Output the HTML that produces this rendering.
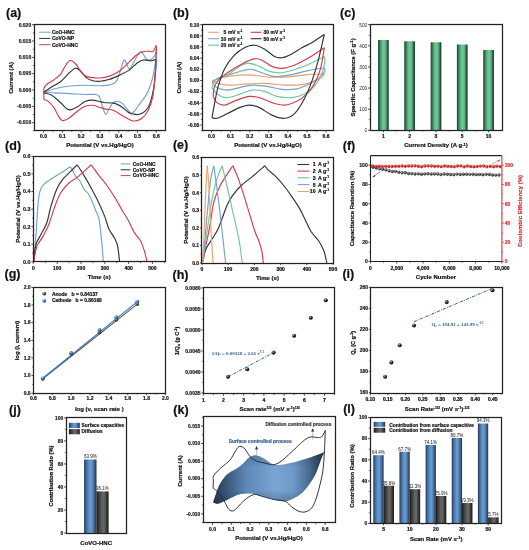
<!DOCTYPE html><html><head><meta charset="utf-8"><style>html,body{margin:0;padding:0;background:#fff;width:529px;height:550px;overflow:hidden}svg{display:block;will-change:transform}</style></head><body>
<svg width="529" height="550" viewBox="0 0 529 550">
<rect width="529" height="550" fill="#fff"/>
<defs>
<linearGradient id="gGreen" x1="0" x2="1" y1="0" y2="0">
<stop offset="0" stop-color="#1c3a2a"/><stop offset="0.12" stop-color="#2f6b4a"/><stop offset="0.35" stop-color="#5fb888"/><stop offset="0.55" stop-color="#70c996"/><stop offset="0.75" stop-color="#5aa97e"/><stop offset="0.9" stop-color="#24503a"/><stop offset="1" stop-color="#1c3a2a"/>
</linearGradient>
<linearGradient id="gBlue" x1="0" x2="1" y1="0" y2="0">
<stop offset="0" stop-color="#223046"/><stop offset="0.15" stop-color="#3c6494"/><stop offset="0.45" stop-color="#6399d0"/><stop offset="0.6" stop-color="#6399d0"/><stop offset="0.85" stop-color="#3f5c82"/><stop offset="1" stop-color="#223046"/>
</linearGradient>
<linearGradient id="gDark" x1="0" x2="1" y1="0" y2="0">
<stop offset="0" stop-color="#161616"/><stop offset="0.15" stop-color="#333"/><stop offset="0.5" stop-color="#666"/><stop offset="0.65" stop-color="#626262"/><stop offset="0.88" stop-color="#2e2e2e"/><stop offset="1" stop-color="#161616"/>
</linearGradient>
<linearGradient id="gK" x1="213" x2="325" y1="0" y2="0" gradientUnits="userSpaceOnUse">
<stop offset="0" stop-color="#26364a"/><stop offset="0.12" stop-color="#3a587a"/><stop offset="0.3" stop-color="#5d88b8"/><stop offset="0.55" stop-color="#79a4d4"/><stop offset="0.72" stop-color="#6d98c8"/><stop offset="0.86" stop-color="#4a6a8e"/><stop offset="0.95" stop-color="#2f4258"/><stop offset="1" stop-color="#26364a"/>
</linearGradient>
<linearGradient id="gKv" x1="0" x2="0" y1="452" y2="503" gradientUnits="userSpaceOnUse">
<stop offset="0" stop-color="#1a2636" stop-opacity="0.25"/><stop offset="0.3" stop-color="#1a2636" stop-opacity="0"/><stop offset="0.75" stop-color="#1a2636" stop-opacity="0"/><stop offset="1" stop-color="#1a2636" stop-opacity="0.3"/>
</linearGradient>
<radialGradient id="gBall" cx="0.35" cy="0.3" r="0.7">
<stop offset="0" stop-color="#bbb"/><stop offset="0.5" stop-color="#333"/><stop offset="1" stop-color="#000"/>
</radialGradient>
<radialGradient id="gBallB" cx="0.35" cy="0.3" r="0.7">
<stop offset="0" stop-color="#a8cdf0"/><stop offset="0.5" stop-color="#3f7fbf"/><stop offset="1" stop-color="#1d4a7a"/>
</radialGradient>
<radialGradient id="gBallG" cx="0.35" cy="0.3" r="0.7">
<stop offset="0" stop-color="#ccc"/><stop offset="0.5" stop-color="#555"/><stop offset="1" stop-color="#222"/>
</radialGradient>
<radialGradient id="gBallR" cx="0.35" cy="0.3" r="0.7">
<stop offset="0" stop-color="#f6a0a0"/><stop offset="0.5" stop-color="#e02020"/><stop offset="1" stop-color="#a01010"/>
</radialGradient>
</defs>
<text x="6.00" y="17.10" font-size="12.5" text-anchor="start" font-weight="bold" fill="#111" font-family="'Liberation Sans', sans-serif" stroke="#111" stroke-width="0.2" >(a)</text>
<rect x="34.50" y="24.50" width="131.00" height="106.00" fill="none" stroke="#222" stroke-width="1.25"/>
<line x1="32.00" y1="24.70" x2="34.00" y2="24.70" stroke="#222" stroke-width="0.8"/>
<text x="31.20" y="26.50" font-size="5" text-anchor="end" font-weight="bold" fill="#222" font-family="'Liberation Sans', sans-serif" stroke="#222" stroke-width="0.2" >0.020</text>
<line x1="32.00" y1="41.03" x2="34.00" y2="41.03" stroke="#222" stroke-width="0.8"/>
<text x="31.20" y="42.83" font-size="5" text-anchor="end" font-weight="bold" fill="#222" font-family="'Liberation Sans', sans-serif" stroke="#222" stroke-width="0.2" >0.015</text>
<line x1="32.00" y1="57.36" x2="34.00" y2="57.36" stroke="#222" stroke-width="0.8"/>
<text x="31.20" y="59.16" font-size="5" text-anchor="end" font-weight="bold" fill="#222" font-family="'Liberation Sans', sans-serif" stroke="#222" stroke-width="0.2" >0.010</text>
<line x1="32.00" y1="73.69" x2="34.00" y2="73.69" stroke="#222" stroke-width="0.8"/>
<text x="31.20" y="75.49" font-size="5" text-anchor="end" font-weight="bold" fill="#222" font-family="'Liberation Sans', sans-serif" stroke="#222" stroke-width="0.2" >0.005</text>
<line x1="32.00" y1="90.02" x2="34.00" y2="90.02" stroke="#222" stroke-width="0.8"/>
<text x="31.20" y="91.82" font-size="5" text-anchor="end" font-weight="bold" fill="#222" font-family="'Liberation Sans', sans-serif" stroke="#222" stroke-width="0.2" >0.000</text>
<line x1="32.00" y1="106.35" x2="34.00" y2="106.35" stroke="#222" stroke-width="0.8"/>
<text x="31.20" y="108.15" font-size="5" text-anchor="end" font-weight="bold" fill="#222" font-family="'Liberation Sans', sans-serif" stroke="#222" stroke-width="0.2" >-0.005</text>
<line x1="32.00" y1="122.68" x2="34.00" y2="122.68" stroke="#222" stroke-width="0.8"/>
<text x="31.20" y="124.48" font-size="5" text-anchor="end" font-weight="bold" fill="#222" font-family="'Liberation Sans', sans-serif" stroke="#222" stroke-width="0.2" >-0.010</text>
<line x1="32.80" y1="32.86" x2="34.00" y2="32.86" stroke="#222" stroke-width="0.7"/>
<line x1="32.80" y1="49.20" x2="34.00" y2="49.20" stroke="#222" stroke-width="0.7"/>
<line x1="32.80" y1="65.53" x2="34.00" y2="65.53" stroke="#222" stroke-width="0.7"/>
<line x1="32.80" y1="81.85" x2="34.00" y2="81.85" stroke="#222" stroke-width="0.7"/>
<line x1="32.80" y1="98.19" x2="34.00" y2="98.19" stroke="#222" stroke-width="0.7"/>
<line x1="32.80" y1="114.51" x2="34.00" y2="114.51" stroke="#222" stroke-width="0.7"/>
<line x1="32.80" y1="130.84" x2="34.00" y2="130.84" stroke="#222" stroke-width="0.7"/>
<line x1="43.60" y1="130.70" x2="43.60" y2="132.70" stroke="#222" stroke-width="0.8"/>
<text x="43.60" y="138.40" font-size="5" text-anchor="middle" font-weight="bold" fill="#111" font-family="'Liberation Sans', sans-serif" stroke="#111" stroke-width="0.2" >0.0</text>
<line x1="62.38" y1="130.70" x2="62.38" y2="132.70" stroke="#222" stroke-width="0.8"/>
<text x="62.38" y="138.40" font-size="5" text-anchor="middle" font-weight="bold" fill="#111" font-family="'Liberation Sans', sans-serif" stroke="#111" stroke-width="0.2" >0.1</text>
<line x1="81.16" y1="130.70" x2="81.16" y2="132.70" stroke="#222" stroke-width="0.8"/>
<text x="81.16" y="138.40" font-size="5" text-anchor="middle" font-weight="bold" fill="#111" font-family="'Liberation Sans', sans-serif" stroke="#111" stroke-width="0.2" >0.2</text>
<line x1="99.94" y1="130.70" x2="99.94" y2="132.70" stroke="#222" stroke-width="0.8"/>
<text x="99.94" y="138.40" font-size="5" text-anchor="middle" font-weight="bold" fill="#111" font-family="'Liberation Sans', sans-serif" stroke="#111" stroke-width="0.2" >0.3</text>
<line x1="118.72" y1="130.70" x2="118.72" y2="132.70" stroke="#222" stroke-width="0.8"/>
<text x="118.72" y="138.40" font-size="5" text-anchor="middle" font-weight="bold" fill="#111" font-family="'Liberation Sans', sans-serif" stroke="#111" stroke-width="0.2" >0.4</text>
<line x1="137.50" y1="130.70" x2="137.50" y2="132.70" stroke="#222" stroke-width="0.8"/>
<text x="137.50" y="138.40" font-size="5" text-anchor="middle" font-weight="bold" fill="#111" font-family="'Liberation Sans', sans-serif" stroke="#111" stroke-width="0.2" >0.5</text>
<line x1="156.28" y1="130.70" x2="156.28" y2="132.70" stroke="#222" stroke-width="0.8"/>
<text x="156.28" y="138.40" font-size="5" text-anchor="middle" font-weight="bold" fill="#111" font-family="'Liberation Sans', sans-serif" stroke="#111" stroke-width="0.2" >0.6</text>
<line x1="52.99" y1="130.70" x2="52.99" y2="131.90" stroke="#222" stroke-width="0.7"/>
<line x1="71.77" y1="130.70" x2="71.77" y2="131.90" stroke="#222" stroke-width="0.7"/>
<line x1="90.55" y1="130.70" x2="90.55" y2="131.90" stroke="#222" stroke-width="0.7"/>
<line x1="109.33" y1="130.70" x2="109.33" y2="131.90" stroke="#222" stroke-width="0.7"/>
<line x1="128.11" y1="130.70" x2="128.11" y2="131.90" stroke="#222" stroke-width="0.7"/>
<line x1="146.89" y1="130.70" x2="146.89" y2="131.90" stroke="#222" stroke-width="0.7"/>
<text x="100.00" y="147.40" font-size="6" text-anchor="middle" font-weight="bold" fill="#111" font-family="'Liberation Sans', sans-serif" stroke="#111" stroke-width="0.2" >Potential (V vs.Hg/HgO)</text>
<text x="12.90" y="77.90" font-size="6" text-anchor="middle" font-weight="bold" fill="#111" font-family="'Liberation Sans', sans-serif" stroke="#111" stroke-width="0.2" transform="rotate(-90 12.90 77.90)" >Current (A)</text>
<line x1="39.1" y1="32.2" x2="50.4" y2="32.2" stroke="#6fa1d4" stroke-width="1"/>
<text x="51.90" y="34.00" font-size="4.95" text-anchor="start" font-weight="bold" fill="#111" font-family="'Liberation Sans', sans-serif" stroke="#111" stroke-width="0.2" >CoO-HNC</text>
<line x1="39.1" y1="38.4" x2="50.4" y2="38.4" stroke="#333333" stroke-width="1"/>
<text x="51.90" y="40.20" font-size="4.95" text-anchor="start" font-weight="bold" fill="#111" font-family="'Liberation Sans', sans-serif" stroke="#111" stroke-width="0.2" >CoVO-NP</text>
<line x1="39.1" y1="44.7" x2="50.4" y2="44.7" stroke="#d23c4a" stroke-width="1"/>
<text x="51.90" y="46.50" font-size="4.95" text-anchor="start" font-weight="bold" fill="#111" font-family="'Liberation Sans', sans-serif" stroke="#111" stroke-width="0.2" >CoVO-HNC</text>
<path d="M43.90,92.20 C45.88,91.58 51.40,89.53 55.80,88.50 C60.20,87.47 65.45,86.53 70.30,86.00 C75.15,85.47 79.95,85.35 84.90,85.30 C89.85,85.25 95.88,85.77 100.00,85.70 C104.12,85.63 106.93,85.57 109.60,84.90 C112.27,84.23 114.27,83.85 116.00,81.70 C117.73,79.55 118.67,75.62 120.00,72.00 C121.33,68.38 122.80,61.07 124.00,60.00 C125.20,58.93 126.27,64.13 127.20,65.60 C128.13,67.07 128.52,69.33 129.60,68.80 C130.68,68.27 132.22,64.93 133.70,62.40 C135.18,59.87 137.17,55.33 138.50,53.60 C139.83,51.87 140.37,51.07 141.70,52.00 C143.03,52.93 145.17,57.87 146.50,59.20 C147.83,60.53 148.37,60.53 149.70,60.00 C151.03,59.47 153.38,57.87 154.50,56.00 C155.62,54.13 156.08,50.00 156.40,48.80" fill="none" stroke="#6fa1d4" stroke-width="1.15" stroke-linejoin="round" />
<path d="M43.90,92.40 C45.88,92.48 51.40,92.70 55.80,92.90 C60.20,93.10 65.43,93.33 70.30,93.60 C75.17,93.87 80.67,94.35 85.00,94.50 C89.33,94.65 93.85,94.03 96.30,94.50 C98.75,94.97 98.67,95.27 99.70,97.30 C100.73,99.33 101.48,103.87 102.50,106.70 C103.52,109.53 104.62,114.13 105.80,114.30 C106.98,114.47 108.33,109.67 109.60,107.70 C110.87,105.73 111.98,103.53 113.40,102.50 C114.82,101.47 116.53,101.27 118.10,101.50 C119.67,101.73 121.23,102.55 122.80,103.90 C124.37,105.25 126.08,108.02 127.50,109.60 C128.92,111.18 130.05,113.25 131.30,113.40 C132.55,113.55 133.80,111.82 135.00,110.50 C136.20,109.18 137.12,107.37 138.50,105.50 C139.88,103.63 141.70,101.67 143.30,99.30 C144.90,96.93 146.50,95.03 148.10,91.30 C149.70,87.57 151.57,82.78 152.90,76.90 C154.23,71.02 155.52,60.68 156.10,56.00 C156.68,51.32 156.35,50.00 156.40,48.80" fill="none" stroke="#6fa1d4" stroke-width="1.15" stroke-linejoin="round" />
<path d="M43.90,92.20 C45.15,91.35 48.68,88.80 51.40,87.10 C54.12,85.40 57.28,84.30 60.20,82.00 C63.12,79.70 66.37,75.60 68.90,73.30 C71.43,71.00 73.47,68.57 75.40,68.20 C77.33,67.83 78.68,69.53 80.50,71.10 C82.32,72.67 84.37,76.03 86.30,77.60 C88.23,79.17 89.82,79.88 92.10,80.50 C94.38,81.12 97.08,81.50 100.00,81.30 C102.92,81.10 106.40,80.30 109.60,79.30 C112.80,78.30 116.00,76.78 119.20,75.30 C122.40,73.82 125.85,72.42 128.80,70.40 C131.75,68.38 134.48,64.93 136.90,63.20 C139.32,61.47 140.90,60.40 143.30,60.00 C145.70,59.60 149.17,60.93 151.30,60.80 C153.43,60.67 155.30,59.47 156.10,59.20" fill="none" stroke="#333333" stroke-width="1.15" stroke-linejoin="round" />
<path d="M43.90,92.90 C45.15,93.27 48.68,93.53 51.40,95.10 C54.12,96.67 57.77,100.13 60.20,102.30 C62.63,104.47 64.32,106.83 66.00,108.10 C67.68,109.37 68.37,110.13 70.30,109.90 C72.23,109.67 75.15,108.10 77.60,106.70 C80.05,105.30 82.50,102.60 85.00,101.50 C87.50,100.40 90.23,100.10 92.60,100.10 C94.97,100.10 97.32,101.10 99.20,101.50 C101.08,101.90 101.85,102.25 103.90,102.50 C105.95,102.75 109.45,102.77 111.50,103.00 C113.55,103.23 114.32,103.12 116.20,103.90 C118.08,104.68 120.75,106.28 122.80,107.70 C124.85,109.12 126.80,111.35 128.50,112.40 C130.20,113.45 131.33,113.65 133.00,114.00 C134.67,114.35 136.52,114.95 138.50,114.50 C140.48,114.05 143.03,113.03 144.90,111.30 C146.77,109.57 148.23,107.97 149.70,104.10 C151.17,100.23 152.68,93.98 153.70,88.10 C154.72,82.22 155.40,73.62 155.80,68.80 C156.20,63.98 156.05,60.80 156.10,59.20" fill="none" stroke="#333333" stroke-width="1.15" stroke-linejoin="round" />
<path d="M43.90,99.40 C43.90,97.58 43.37,91.03 43.90,88.50 C44.43,85.97 45.60,85.53 47.10,84.20 C48.60,82.87 50.72,82.08 52.90,80.50 C55.08,78.92 58.15,77.12 60.20,74.70 C62.25,72.28 63.52,68.37 65.20,66.00 C66.88,63.63 68.47,60.75 70.30,60.50 C72.13,60.25 74.25,62.37 76.20,64.50 C78.15,66.63 80.07,71.23 82.00,73.30 C83.93,75.37 84.80,76.12 87.80,76.90 C90.80,77.68 96.37,78.13 100.00,78.00 C103.63,77.87 106.40,77.22 109.60,76.10 C112.80,74.98 116.27,73.32 119.20,71.30 C122.13,69.28 124.52,66.55 127.20,64.00 C129.88,61.45 132.88,58.00 135.30,56.00 C137.72,54.00 139.57,52.80 141.70,52.00 C143.83,51.20 146.23,51.28 148.10,51.20 C149.97,51.12 151.57,52.43 152.90,51.50 C154.23,50.57 155.57,46.58 156.10,45.60" fill="none" stroke="#d23c4a" stroke-width="1.15" stroke-linejoin="round" />
<path d="M43.90,99.40 C44.67,99.77 46.77,100.15 48.50,101.60 C50.23,103.05 52.72,105.80 54.30,108.10 C55.88,110.40 56.67,113.33 58.00,115.40 C59.33,117.47 60.48,120.02 62.30,120.50 C64.12,120.98 66.35,119.88 68.90,118.30 C71.45,116.72 74.92,113.00 77.60,111.00 C80.28,109.00 82.50,107.25 85.00,106.30 C87.50,105.35 90.23,105.15 92.60,105.30 C94.97,105.45 97.00,106.57 99.20,107.20 C101.40,107.83 103.60,108.63 105.80,109.10 C108.00,109.57 110.35,109.37 112.40,110.00 C114.45,110.63 116.05,111.72 118.10,112.90 C120.15,114.08 122.65,115.92 124.70,117.10 C126.75,118.28 128.77,119.35 130.40,120.00 C132.03,120.65 132.62,121.25 134.50,121.00 C136.38,120.75 139.43,120.25 141.70,118.50 C143.97,116.75 146.23,114.23 148.10,110.50 C149.97,106.77 151.70,102.52 152.90,96.10 C154.10,89.68 154.72,79.75 155.30,72.00 C155.88,64.25 156.27,54.00 156.40,49.60 C156.53,45.20 156.15,46.27 156.10,45.60" fill="none" stroke="#d23c4a" stroke-width="1.15" stroke-linejoin="round" />
<text x="172.90" y="17.10" font-size="12.5" text-anchor="start" font-weight="bold" fill="#111" font-family="'Liberation Sans', sans-serif" stroke="#111" stroke-width="0.2" >(b)</text>
<rect x="202.50" y="24.50" width="131.00" height="106.00" fill="none" stroke="#222" stroke-width="1.25"/>
<line x1="200.20" y1="24.70" x2="202.20" y2="24.70" stroke="#222" stroke-width="0.8"/>
<text x="199.40" y="26.50" font-size="5" text-anchor="end" font-weight="bold" fill="#222" font-family="'Liberation Sans', sans-serif" stroke="#222" stroke-width="0.2" >0.10</text>
<line x1="200.20" y1="35.86" x2="202.20" y2="35.86" stroke="#222" stroke-width="0.8"/>
<text x="199.40" y="37.66" font-size="5" text-anchor="end" font-weight="bold" fill="#222" font-family="'Liberation Sans', sans-serif" stroke="#222" stroke-width="0.2" >0.08</text>
<line x1="200.20" y1="47.02" x2="202.20" y2="47.02" stroke="#222" stroke-width="0.8"/>
<text x="199.40" y="48.82" font-size="5" text-anchor="end" font-weight="bold" fill="#222" font-family="'Liberation Sans', sans-serif" stroke="#222" stroke-width="0.2" >0.06</text>
<line x1="200.20" y1="58.18" x2="202.20" y2="58.18" stroke="#222" stroke-width="0.8"/>
<text x="199.40" y="59.98" font-size="5" text-anchor="end" font-weight="bold" fill="#222" font-family="'Liberation Sans', sans-serif" stroke="#222" stroke-width="0.2" >0.04</text>
<line x1="200.20" y1="69.34" x2="202.20" y2="69.34" stroke="#222" stroke-width="0.8"/>
<text x="199.40" y="71.14" font-size="5" text-anchor="end" font-weight="bold" fill="#222" font-family="'Liberation Sans', sans-serif" stroke="#222" stroke-width="0.2" >0.02</text>
<line x1="200.20" y1="80.50" x2="202.20" y2="80.50" stroke="#222" stroke-width="0.8"/>
<text x="199.40" y="82.30" font-size="5" text-anchor="end" font-weight="bold" fill="#222" font-family="'Liberation Sans', sans-serif" stroke="#222" stroke-width="0.2" >0.00</text>
<line x1="200.20" y1="91.66" x2="202.20" y2="91.66" stroke="#222" stroke-width="0.8"/>
<text x="199.40" y="93.46" font-size="5" text-anchor="end" font-weight="bold" fill="#222" font-family="'Liberation Sans', sans-serif" stroke="#222" stroke-width="0.2" >-0.02</text>
<line x1="200.20" y1="102.82" x2="202.20" y2="102.82" stroke="#222" stroke-width="0.8"/>
<text x="199.40" y="104.62" font-size="5" text-anchor="end" font-weight="bold" fill="#222" font-family="'Liberation Sans', sans-serif" stroke="#222" stroke-width="0.2" >-0.04</text>
<line x1="200.20" y1="113.98" x2="202.20" y2="113.98" stroke="#222" stroke-width="0.8"/>
<text x="199.40" y="115.78" font-size="5" text-anchor="end" font-weight="bold" fill="#222" font-family="'Liberation Sans', sans-serif" stroke="#222" stroke-width="0.2" >-0.06</text>
<line x1="200.20" y1="125.14" x2="202.20" y2="125.14" stroke="#222" stroke-width="0.8"/>
<text x="199.40" y="126.94" font-size="5" text-anchor="end" font-weight="bold" fill="#222" font-family="'Liberation Sans', sans-serif" stroke="#222" stroke-width="0.2" >-0.08</text>
<line x1="201.00" y1="30.28" x2="202.20" y2="30.28" stroke="#222" stroke-width="0.7"/>
<line x1="201.00" y1="41.44" x2="202.20" y2="41.44" stroke="#222" stroke-width="0.7"/>
<line x1="201.00" y1="52.60" x2="202.20" y2="52.60" stroke="#222" stroke-width="0.7"/>
<line x1="201.00" y1="63.76" x2="202.20" y2="63.76" stroke="#222" stroke-width="0.7"/>
<line x1="201.00" y1="74.92" x2="202.20" y2="74.92" stroke="#222" stroke-width="0.7"/>
<line x1="201.00" y1="86.08" x2="202.20" y2="86.08" stroke="#222" stroke-width="0.7"/>
<line x1="201.00" y1="97.24" x2="202.20" y2="97.24" stroke="#222" stroke-width="0.7"/>
<line x1="201.00" y1="108.40" x2="202.20" y2="108.40" stroke="#222" stroke-width="0.7"/>
<line x1="201.00" y1="119.56" x2="202.20" y2="119.56" stroke="#222" stroke-width="0.7"/>
<line x1="201.00" y1="130.72" x2="202.20" y2="130.72" stroke="#222" stroke-width="0.7"/>
<line x1="211.50" y1="130.50" x2="211.50" y2="132.50" stroke="#222" stroke-width="0.8"/>
<text x="211.50" y="138.40" font-size="5" text-anchor="middle" font-weight="bold" fill="#111" font-family="'Liberation Sans', sans-serif" stroke="#111" stroke-width="0.2" >0.0</text>
<line x1="230.60" y1="130.50" x2="230.60" y2="132.50" stroke="#222" stroke-width="0.8"/>
<text x="230.60" y="138.40" font-size="5" text-anchor="middle" font-weight="bold" fill="#111" font-family="'Liberation Sans', sans-serif" stroke="#111" stroke-width="0.2" >0.1</text>
<line x1="249.70" y1="130.50" x2="249.70" y2="132.50" stroke="#222" stroke-width="0.8"/>
<text x="249.70" y="138.40" font-size="5" text-anchor="middle" font-weight="bold" fill="#111" font-family="'Liberation Sans', sans-serif" stroke="#111" stroke-width="0.2" >0.2</text>
<line x1="268.80" y1="130.50" x2="268.80" y2="132.50" stroke="#222" stroke-width="0.8"/>
<text x="268.80" y="138.40" font-size="5" text-anchor="middle" font-weight="bold" fill="#111" font-family="'Liberation Sans', sans-serif" stroke="#111" stroke-width="0.2" >0.3</text>
<line x1="287.90" y1="130.50" x2="287.90" y2="132.50" stroke="#222" stroke-width="0.8"/>
<text x="287.90" y="138.40" font-size="5" text-anchor="middle" font-weight="bold" fill="#111" font-family="'Liberation Sans', sans-serif" stroke="#111" stroke-width="0.2" >0.4</text>
<line x1="307.00" y1="130.50" x2="307.00" y2="132.50" stroke="#222" stroke-width="0.8"/>
<text x="307.00" y="138.40" font-size="5" text-anchor="middle" font-weight="bold" fill="#111" font-family="'Liberation Sans', sans-serif" stroke="#111" stroke-width="0.2" >0.5</text>
<line x1="326.10" y1="130.50" x2="326.10" y2="132.50" stroke="#222" stroke-width="0.8"/>
<text x="326.10" y="138.40" font-size="5" text-anchor="middle" font-weight="bold" fill="#111" font-family="'Liberation Sans', sans-serif" stroke="#111" stroke-width="0.2" >0.6</text>
<line x1="221.05" y1="130.50" x2="221.05" y2="131.70" stroke="#222" stroke-width="0.7"/>
<line x1="240.15" y1="130.50" x2="240.15" y2="131.70" stroke="#222" stroke-width="0.7"/>
<line x1="259.25" y1="130.50" x2="259.25" y2="131.70" stroke="#222" stroke-width="0.7"/>
<line x1="278.35" y1="130.50" x2="278.35" y2="131.70" stroke="#222" stroke-width="0.7"/>
<line x1="297.45" y1="130.50" x2="297.45" y2="131.70" stroke="#222" stroke-width="0.7"/>
<line x1="316.55" y1="130.50" x2="316.55" y2="131.70" stroke="#222" stroke-width="0.7"/>
<text x="268.00" y="147.40" font-size="6" text-anchor="middle" font-weight="bold" fill="#111" font-family="'Liberation Sans', sans-serif" stroke="#111" stroke-width="0.2" >Potential (V vs.Hg/HgO)</text>
<text x="181.00" y="77.60" font-size="6" text-anchor="middle" font-weight="bold" fill="#111" font-family="'Liberation Sans', sans-serif" stroke="#111" stroke-width="0.2" transform="rotate(-90 181.00 77.60)" >Current (A)</text>
<line x1="208.2" y1="32.3" x2="219.0" y2="32.3" stroke="#f0a060" stroke-width="1.1"/>
<text x="226.30" y="34.10" font-size="4.95" text-anchor="end" font-weight="bold" fill="#111" font-family="'Liberation Sans', sans-serif" stroke="#111" stroke-width="0.2" >5</text>
<text x="227.90" y="34.10" font-size="4.95" text-anchor="start" font-weight="bold" fill="#111" font-family="'Liberation Sans', sans-serif" stroke="#111" stroke-width="0.2" >mV s<tspan dy="-1.8" font-size="3.2">-1</tspan></text>
<line x1="208.2" y1="38.7" x2="219.0" y2="38.7" stroke="#6fa1d4" stroke-width="1.1"/>
<text x="226.30" y="40.50" font-size="4.95" text-anchor="end" font-weight="bold" fill="#111" font-family="'Liberation Sans', sans-serif" stroke="#111" stroke-width="0.2" >10</text>
<text x="227.90" y="40.50" font-size="4.95" text-anchor="start" font-weight="bold" fill="#111" font-family="'Liberation Sans', sans-serif" stroke="#111" stroke-width="0.2" >mV s<tspan dy="-1.8" font-size="3.2">-1</tspan></text>
<line x1="208.2" y1="45.2" x2="219.0" y2="45.2" stroke="#6cc99a" stroke-width="1.1"/>
<text x="226.30" y="47.00" font-size="4.95" text-anchor="end" font-weight="bold" fill="#111" font-family="'Liberation Sans', sans-serif" stroke="#111" stroke-width="0.2" >20</text>
<text x="227.90" y="47.00" font-size="4.95" text-anchor="start" font-weight="bold" fill="#111" font-family="'Liberation Sans', sans-serif" stroke="#111" stroke-width="0.2" >mV s<tspan dy="-1.8" font-size="3.2">-1</tspan></text>
<line x1="250.7" y1="32.3" x2="261.5" y2="32.3" stroke="#d23c4a" stroke-width="1.1"/>
<text x="268.90" y="34.10" font-size="4.95" text-anchor="end" font-weight="bold" fill="#111" font-family="'Liberation Sans', sans-serif" stroke="#111" stroke-width="0.2" >30</text>
<text x="270.50" y="34.10" font-size="4.95" text-anchor="start" font-weight="bold" fill="#111" font-family="'Liberation Sans', sans-serif" stroke="#111" stroke-width="0.2" >mV s<tspan dy="-1.8" font-size="3.2">-1</tspan></text>
<line x1="250.7" y1="38.7" x2="261.5" y2="38.7" stroke="#333333" stroke-width="1.1"/>
<text x="268.90" y="40.50" font-size="4.95" text-anchor="end" font-weight="bold" fill="#111" font-family="'Liberation Sans', sans-serif" stroke="#111" stroke-width="0.2" >50</text>
<text x="270.50" y="40.50" font-size="4.95" text-anchor="start" font-weight="bold" fill="#111" font-family="'Liberation Sans', sans-serif" stroke="#111" stroke-width="0.2" >mV s<tspan dy="-1.8" font-size="3.2">-1</tspan></text>
<path d="M212.00,80.90 C213.67,80.35 217.43,78.57 222.00,77.60 C226.57,76.63 234.42,75.52 239.40,75.10 C244.38,74.68 246.90,74.77 251.90,75.10 C256.90,75.43 263.17,76.80 269.40,77.10 C275.63,77.40 283.07,77.32 289.30,76.90 C295.53,76.48 300.97,75.10 306.80,74.60 C312.63,74.10 321.38,74.02 324.30,73.90" fill="none" stroke="#f0a060" stroke-width="1.15" stroke-linejoin="round" />
<path d="M212.00,80.90 C213.25,81.40 216.17,83.20 219.50,83.90 C222.83,84.60 227.43,85.10 232.00,85.10 C236.57,85.10 241.50,84.18 246.90,83.90 C252.30,83.62 258.17,83.20 264.40,83.40 C270.63,83.60 278.07,84.90 284.30,85.10 C290.53,85.30 296.80,85.22 301.80,84.60 C306.80,83.98 310.97,82.57 314.30,81.40 C317.63,80.23 320.13,78.85 321.80,77.60 C323.47,76.35 323.88,74.52 324.30,73.90" fill="none" stroke="#f0a060" stroke-width="1.15" stroke-linejoin="round" />
<path d="M212.00,82.60 C213.25,81.77 216.17,79.05 219.50,77.60 C222.83,76.15 227.85,75.13 232.00,73.90 C236.15,72.67 241.08,70.95 244.40,70.20 C247.72,69.45 248.98,68.98 251.90,69.40 C254.82,69.82 258.15,71.53 261.90,72.70 C265.65,73.87 269.83,76.00 274.40,76.40 C278.97,76.80 283.90,76.02 289.30,75.10 C294.70,74.18 300.97,72.13 306.80,70.90 C312.63,69.67 321.38,68.23 324.30,67.70" fill="none" stroke="#6fa1d4" stroke-width="1.15" stroke-linejoin="round" />
<path d="M212.00,82.60 C212.83,83.43 214.50,86.35 217.00,87.60 C219.50,88.85 223.27,90.10 227.00,90.10 C230.73,90.10 235.25,88.43 239.40,87.60 C243.55,86.77 247.32,85.30 251.90,85.10 C256.48,84.90 261.92,85.68 266.90,86.40 C271.88,87.12 276.82,88.98 281.80,89.40 C286.78,89.82 292.22,89.82 296.80,88.90 C301.38,87.98 305.55,85.78 309.30,83.90 C313.05,82.02 316.72,79.68 319.30,77.60 C321.88,75.52 323.97,73.05 324.80,71.40 C325.63,69.75 324.38,68.32 324.30,67.70" fill="none" stroke="#6fa1d4" stroke-width="1.15" stroke-linejoin="round" />
<path d="M212.00,87.60 C212.62,86.35 213.20,82.18 215.70,80.10 C218.20,78.02 223.05,77.38 227.00,75.10 C230.95,72.82 236.08,68.35 239.40,66.40 C242.72,64.45 243.98,63.60 246.90,63.40 C249.82,63.20 253.15,63.87 256.90,65.20 C260.65,66.53 265.25,70.15 269.40,71.40 C273.55,72.65 277.23,73.12 281.80,72.70 C286.37,72.28 292.22,70.37 296.80,68.90 C301.38,67.43 304.72,65.98 309.30,63.90 C313.88,61.82 321.80,57.65 324.30,56.40" fill="none" stroke="#6cc99a" stroke-width="1.15" stroke-linejoin="round" />
<path d="M212.00,87.60 C212.83,88.65 214.50,92.23 217.00,93.90 C219.50,95.57 223.27,97.52 227.00,97.60 C230.73,97.68 235.25,95.65 239.40,94.40 C243.55,93.15 247.73,90.60 251.90,90.10 C256.07,89.60 260.23,90.35 264.40,91.40 C268.57,92.45 272.33,95.37 276.90,96.40 C281.47,97.43 287.23,98.02 291.80,97.60 C296.37,97.18 300.55,95.77 304.30,93.90 C308.05,92.03 311.38,89.73 314.30,86.40 C317.22,83.07 320.05,78.07 321.80,73.90 C323.55,69.73 324.38,64.32 324.80,61.40 C325.22,58.48 324.38,57.23 324.30,56.40" fill="none" stroke="#6cc99a" stroke-width="1.15" stroke-linejoin="round" />
<path d="M213.20,96.40 C213.42,94.73 213.45,89.32 214.50,86.40 C215.55,83.48 217.02,81.40 219.50,78.90 C221.98,76.40 225.67,73.90 229.40,71.40 C233.13,68.90 237.73,65.98 241.90,63.90 C246.07,61.82 251.07,59.52 254.40,58.90 C257.73,58.28 258.98,58.95 261.90,60.20 C264.82,61.45 268.58,65.03 271.90,66.40 C275.22,67.77 278.07,68.60 281.80,68.40 C285.53,68.20 290.13,66.78 294.30,65.20 C298.47,63.62 303.05,60.98 306.80,58.90 C310.55,56.82 313.88,54.57 316.80,52.70 C319.72,50.83 323.05,48.53 324.30,47.70" fill="none" stroke="#d23c4a" stroke-width="1.15" stroke-linejoin="round" />
<path d="M213.20,96.40 C213.83,97.43 215.12,101.15 217.00,102.60 C218.88,104.05 221.18,105.52 224.50,105.10 C227.82,104.68 232.75,101.55 236.90,100.10 C241.05,98.65 245.65,96.82 249.40,96.40 C253.15,95.98 255.65,96.57 259.40,97.60 C263.15,98.63 267.75,101.35 271.90,102.60 C276.05,103.85 280.15,105.32 284.30,105.10 C288.45,104.88 293.05,103.17 296.80,101.30 C300.55,99.43 303.88,96.80 306.80,93.90 C309.72,91.00 312.02,88.07 314.30,83.90 C316.58,79.73 318.83,74.93 320.50,68.90 C322.17,62.87 323.67,51.23 324.30,47.70" fill="none" stroke="#d23c4a" stroke-width="1.15" stroke-linejoin="round" />
<path d="M212.00,117.60 C212.42,115.30 213.47,109.00 214.50,103.80 C215.53,98.60 216.53,92.22 218.20,86.40 C219.87,80.58 221.80,74.10 224.50,68.90 C227.20,63.70 231.08,58.73 234.40,55.20 C237.72,51.67 241.07,49.37 244.40,47.70 C247.73,46.03 251.07,44.98 254.40,45.20 C257.73,45.42 261.07,47.13 264.40,49.00 C267.73,50.87 271.50,54.95 274.40,56.40 C277.30,57.85 278.90,58.12 281.80,57.70 C284.70,57.28 288.47,55.57 291.80,53.90 C295.13,52.23 298.47,49.57 301.80,47.70 C305.13,45.83 308.88,44.37 311.80,42.70 C314.72,41.03 317.22,39.07 319.30,37.70 C321.38,36.33 323.47,35.03 324.30,34.50" fill="none" stroke="#333333" stroke-width="1.15" stroke-linejoin="round" />
<path d="M212.00,117.60 C212.83,117.72 214.50,118.93 217.00,118.30 C219.50,117.67 223.27,115.58 227.00,113.80 C230.73,112.02 235.67,109.05 239.40,107.60 C243.13,106.15 246.07,105.10 249.40,105.10 C252.73,105.10 255.65,105.93 259.40,107.60 C263.15,109.27 267.75,113.32 271.90,115.10 C276.05,116.88 280.57,118.52 284.30,118.30 C288.03,118.08 290.97,117.03 294.30,113.80 C297.63,110.57 301.38,104.30 304.30,98.90 C307.22,93.50 309.52,87.65 311.80,81.40 C314.08,75.15 315.92,69.22 318.00,61.40 C320.08,53.58 323.25,38.98 324.30,34.50" fill="none" stroke="#333333" stroke-width="1.15" stroke-linejoin="round" />
<text x="340.10" y="17.10" font-size="12.5" text-anchor="start" font-weight="bold" fill="#111" font-family="'Liberation Sans', sans-serif" stroke="#111" stroke-width="0.2" >(c)</text>
<line x1="368.00" y1="24.70" x2="370.00" y2="24.70" stroke="#222" stroke-width="0.8"/>
<text x="367.20" y="26.50" font-size="4.7" text-anchor="end" font-weight="normal" fill="#222" font-family="'Liberation Sans', sans-serif" >500</text>
<line x1="368.00" y1="45.82" x2="370.00" y2="45.82" stroke="#222" stroke-width="0.8"/>
<text x="367.20" y="47.62" font-size="4.7" text-anchor="end" font-weight="normal" fill="#222" font-family="'Liberation Sans', sans-serif" >400</text>
<line x1="368.00" y1="66.94" x2="370.00" y2="66.94" stroke="#222" stroke-width="0.8"/>
<text x="367.20" y="68.74" font-size="4.7" text-anchor="end" font-weight="normal" fill="#222" font-family="'Liberation Sans', sans-serif" >300</text>
<line x1="368.00" y1="88.06" x2="370.00" y2="88.06" stroke="#222" stroke-width="0.8"/>
<text x="367.20" y="89.86" font-size="4.7" text-anchor="end" font-weight="normal" fill="#222" font-family="'Liberation Sans', sans-serif" >200</text>
<line x1="368.00" y1="109.18" x2="370.00" y2="109.18" stroke="#222" stroke-width="0.8"/>
<text x="367.20" y="110.98" font-size="4.7" text-anchor="end" font-weight="normal" fill="#222" font-family="'Liberation Sans', sans-serif" >100</text>
<line x1="368.00" y1="130.30" x2="370.00" y2="130.30" stroke="#222" stroke-width="0.8"/>
<text x="367.20" y="132.10" font-size="4.7" text-anchor="end" font-weight="normal" fill="#222" font-family="'Liberation Sans', sans-serif" >0</text>
<line x1="368.80" y1="35.26" x2="370.00" y2="35.26" stroke="#222" stroke-width="0.7"/>
<line x1="368.80" y1="56.38" x2="370.00" y2="56.38" stroke="#222" stroke-width="0.7"/>
<line x1="368.80" y1="77.50" x2="370.00" y2="77.50" stroke="#222" stroke-width="0.7"/>
<line x1="368.80" y1="98.62" x2="370.00" y2="98.62" stroke="#222" stroke-width="0.7"/>
<line x1="368.80" y1="119.74" x2="370.00" y2="119.74" stroke="#222" stroke-width="0.7"/>
<line x1="383.40" y1="130.30" x2="383.40" y2="132.30" stroke="#222" stroke-width="0.8"/>
<text x="383.40" y="138.20" font-size="5" text-anchor="middle" font-weight="bold" fill="#111" font-family="'Liberation Sans', sans-serif" stroke="#111" stroke-width="0.2" >1</text>
<line x1="409.60" y1="130.30" x2="409.60" y2="132.30" stroke="#222" stroke-width="0.8"/>
<text x="409.60" y="138.20" font-size="5" text-anchor="middle" font-weight="bold" fill="#111" font-family="'Liberation Sans', sans-serif" stroke="#111" stroke-width="0.2" >2</text>
<line x1="436.00" y1="130.30" x2="436.00" y2="132.30" stroke="#222" stroke-width="0.8"/>
<text x="436.00" y="138.20" font-size="5" text-anchor="middle" font-weight="bold" fill="#111" font-family="'Liberation Sans', sans-serif" stroke="#111" stroke-width="0.2" >3</text>
<line x1="462.25" y1="130.30" x2="462.25" y2="132.30" stroke="#222" stroke-width="0.8"/>
<text x="462.25" y="138.20" font-size="5" text-anchor="middle" font-weight="bold" fill="#111" font-family="'Liberation Sans', sans-serif" stroke="#111" stroke-width="0.2" >5</text>
<line x1="488.60" y1="130.30" x2="488.60" y2="132.30" stroke="#222" stroke-width="0.8"/>
<text x="488.60" y="138.20" font-size="5" text-anchor="middle" font-weight="bold" fill="#111" font-family="'Liberation Sans', sans-serif" stroke="#111" stroke-width="0.2" >10</text>
<line x1="396.50" y1="130.30" x2="396.50" y2="131.50" stroke="#222" stroke-width="0.7"/>
<line x1="422.80" y1="130.30" x2="422.80" y2="131.50" stroke="#222" stroke-width="0.7"/>
<line x1="449.12" y1="130.30" x2="449.12" y2="131.50" stroke="#222" stroke-width="0.7"/>
<line x1="475.43" y1="130.30" x2="475.43" y2="131.50" stroke="#222" stroke-width="0.7"/>
<rect x="378.05" y="40" width="10.7" height="90.30" fill="url(#gGreen)"/>
<rect x="404.25" y="41.25" width="10.7" height="89.05" fill="url(#gGreen)"/>
<rect x="430.65" y="42.25" width="10.7" height="88.05" fill="url(#gGreen)"/>
<rect x="456.90" y="44.5" width="10.7" height="85.80" fill="url(#gGreen)"/>
<rect x="483.25" y="50" width="10.7" height="80.30" fill="url(#gGreen)"/>
<rect x="370.50" y="24.50" width="132.00" height="106.00" fill="none" stroke="#222" stroke-width="1.25"/>
<text x="436.00" y="147.40" font-size="6" text-anchor="middle" font-weight="bold" fill="#111" font-family="'Liberation Sans', sans-serif" stroke="#111" stroke-width="0.2" >Current Density (A g<tspan dy="-1.8" font-size="4">-1</tspan><tspan dy="1.8">)</tspan></text>
<text x="354.80" y="77.40" font-size="6" text-anchor="middle" font-weight="bold" fill="#111" font-family="'Liberation Sans', sans-serif" stroke="#111" stroke-width="0.2" transform="rotate(-90 354.80 77.40)" >Specific Capacitance (F g<tspan dy="-1.8" font-size="4">-1</tspan><tspan dy="1.8">)</tspan></text>
<text x="5.10" y="150.20" font-size="12.5" text-anchor="start" font-weight="bold" fill="#111" font-family="'Liberation Sans', sans-serif" stroke="#111" stroke-width="0.2" >(d)</text>
<line x1="31.40" y1="156.30" x2="33.40" y2="156.30" stroke="#222" stroke-width="0.8"/>
<text x="30.60" y="158.10" font-size="5.4" text-anchor="end" font-weight="bold" fill="#222" font-family="'Liberation Sans', sans-serif" stroke="#222" stroke-width="0.2" >0.6</text>
<line x1="31.40" y1="173.90" x2="33.40" y2="173.90" stroke="#222" stroke-width="0.8"/>
<text x="30.60" y="175.70" font-size="5.4" text-anchor="end" font-weight="bold" fill="#222" font-family="'Liberation Sans', sans-serif" stroke="#222" stroke-width="0.2" >0.5</text>
<line x1="31.40" y1="191.50" x2="33.40" y2="191.50" stroke="#222" stroke-width="0.8"/>
<text x="30.60" y="193.30" font-size="5.4" text-anchor="end" font-weight="bold" fill="#222" font-family="'Liberation Sans', sans-serif" stroke="#222" stroke-width="0.2" >0.4</text>
<line x1="31.40" y1="209.10" x2="33.40" y2="209.10" stroke="#222" stroke-width="0.8"/>
<text x="30.60" y="210.90" font-size="5.4" text-anchor="end" font-weight="bold" fill="#222" font-family="'Liberation Sans', sans-serif" stroke="#222" stroke-width="0.2" >0.3</text>
<line x1="31.40" y1="226.70" x2="33.40" y2="226.70" stroke="#222" stroke-width="0.8"/>
<text x="30.60" y="228.50" font-size="5.4" text-anchor="end" font-weight="bold" fill="#222" font-family="'Liberation Sans', sans-serif" stroke="#222" stroke-width="0.2" >0.2</text>
<line x1="31.40" y1="244.30" x2="33.40" y2="244.30" stroke="#222" stroke-width="0.8"/>
<text x="30.60" y="246.10" font-size="5.4" text-anchor="end" font-weight="bold" fill="#222" font-family="'Liberation Sans', sans-serif" stroke="#222" stroke-width="0.2" >0.1</text>
<line x1="31.40" y1="261.90" x2="33.40" y2="261.90" stroke="#222" stroke-width="0.8"/>
<text x="30.60" y="263.70" font-size="5.4" text-anchor="end" font-weight="bold" fill="#222" font-family="'Liberation Sans', sans-serif" stroke="#222" stroke-width="0.2" >0.0</text>
<line x1="32.20" y1="165.10" x2="33.40" y2="165.10" stroke="#222" stroke-width="0.7"/>
<line x1="32.20" y1="182.70" x2="33.40" y2="182.70" stroke="#222" stroke-width="0.7"/>
<line x1="32.20" y1="200.30" x2="33.40" y2="200.30" stroke="#222" stroke-width="0.7"/>
<line x1="32.20" y1="217.90" x2="33.40" y2="217.90" stroke="#222" stroke-width="0.7"/>
<line x1="32.20" y1="235.50" x2="33.40" y2="235.50" stroke="#222" stroke-width="0.7"/>
<line x1="32.20" y1="253.10" x2="33.40" y2="253.10" stroke="#222" stroke-width="0.7"/>
<line x1="33.40" y1="261.90" x2="33.40" y2="263.90" stroke="#222" stroke-width="0.8"/>
<text x="33.40" y="270.20" font-size="5" text-anchor="middle" font-weight="bold" fill="#111" font-family="'Liberation Sans', sans-serif" stroke="#111" stroke-width="0.2" >0</text>
<line x1="57.20" y1="261.90" x2="57.20" y2="263.90" stroke="#222" stroke-width="0.8"/>
<text x="57.20" y="270.20" font-size="5" text-anchor="middle" font-weight="bold" fill="#111" font-family="'Liberation Sans', sans-serif" stroke="#111" stroke-width="0.2" >100</text>
<line x1="81.00" y1="261.90" x2="81.00" y2="263.90" stroke="#222" stroke-width="0.8"/>
<text x="81.00" y="270.20" font-size="5" text-anchor="middle" font-weight="bold" fill="#111" font-family="'Liberation Sans', sans-serif" stroke="#111" stroke-width="0.2" >200</text>
<line x1="104.80" y1="261.90" x2="104.80" y2="263.90" stroke="#222" stroke-width="0.8"/>
<text x="104.80" y="270.20" font-size="5" text-anchor="middle" font-weight="bold" fill="#111" font-family="'Liberation Sans', sans-serif" stroke="#111" stroke-width="0.2" >300</text>
<line x1="128.60" y1="261.90" x2="128.60" y2="263.90" stroke="#222" stroke-width="0.8"/>
<text x="128.60" y="270.20" font-size="5" text-anchor="middle" font-weight="bold" fill="#111" font-family="'Liberation Sans', sans-serif" stroke="#111" stroke-width="0.2" >400</text>
<line x1="152.40" y1="261.90" x2="152.40" y2="263.90" stroke="#222" stroke-width="0.8"/>
<text x="152.40" y="270.20" font-size="5" text-anchor="middle" font-weight="bold" fill="#111" font-family="'Liberation Sans', sans-serif" stroke="#111" stroke-width="0.2" >500</text>
<line x1="45.30" y1="261.90" x2="45.30" y2="263.10" stroke="#222" stroke-width="0.7"/>
<line x1="69.10" y1="261.90" x2="69.10" y2="263.10" stroke="#222" stroke-width="0.7"/>
<line x1="92.90" y1="261.90" x2="92.90" y2="263.10" stroke="#222" stroke-width="0.7"/>
<line x1="116.70" y1="261.90" x2="116.70" y2="263.10" stroke="#222" stroke-width="0.7"/>
<line x1="140.50" y1="261.90" x2="140.50" y2="263.10" stroke="#222" stroke-width="0.7"/>
<line x1="164.30" y1="261.90" x2="164.30" y2="263.10" stroke="#222" stroke-width="0.7"/>
<text x="99.20" y="278.80" font-size="6" text-anchor="middle" font-weight="bold" fill="#111" font-family="'Liberation Sans', sans-serif" stroke="#111" stroke-width="0.2" >Time (s)</text>
<text x="20.10" y="209.00" font-size="6" text-anchor="middle" font-weight="bold" fill="#111" font-family="'Liberation Sans', sans-serif" stroke="#111" stroke-width="0.2" transform="rotate(-90 20.10 209.00)" >Potential (V vs.Hg/HgO)</text>
<line x1="120.6" y1="163.9" x2="130.4" y2="163.9" stroke="#6fa1d4" stroke-width="1"/>
<text x="132.80" y="165.70" font-size="4.95" text-anchor="start" font-weight="bold" fill="#111" font-family="'Liberation Sans', sans-serif" stroke="#111" stroke-width="0.2" >CoO-HNC</text>
<line x1="120.6" y1="169.8" x2="130.4" y2="169.8" stroke="#333333" stroke-width="1"/>
<text x="132.80" y="171.60" font-size="4.95" text-anchor="start" font-weight="bold" fill="#111" font-family="'Liberation Sans', sans-serif" stroke="#111" stroke-width="0.2" >CoVO-NP</text>
<line x1="120.6" y1="175.6" x2="130.4" y2="175.6" stroke="#d23c4a" stroke-width="1"/>
<text x="132.80" y="177.40" font-size="4.95" text-anchor="start" font-weight="bold" fill="#111" font-family="'Liberation Sans', sans-serif" stroke="#111" stroke-width="0.2" >CoVO-HNC</text>
<path d="M33.60,261.90 C34.00,257.35 35.28,244.07 36.00,234.60 C36.72,225.13 37.25,212.30 37.90,205.10 C38.55,197.90 39.08,194.67 39.90,191.40 C40.72,188.13 41.33,187.30 42.80,185.50 C44.27,183.70 46.40,182.25 48.70,180.60 C51.00,178.95 53.98,177.25 56.60,175.60 C59.22,173.95 62.43,172.00 64.40,170.70 C66.37,169.40 67.42,168.45 68.40,167.80 C69.38,167.15 69.98,166.97 70.30,166.80" fill="none" stroke="#6fa1d4" stroke-width="1.15" stroke-linejoin="round" />
<path d="M70.30,166.80 C70.63,167.30 71.48,168.33 72.30,169.80 C73.12,171.27 73.88,173.65 75.20,175.60 C76.52,177.55 78.72,179.20 80.20,181.50 C81.68,183.80 82.80,187.43 84.10,189.40 C85.40,191.37 86.68,191.33 88.00,193.30 C89.32,195.27 90.68,198.25 92.00,201.20 C93.32,204.15 94.73,208.05 95.90,211.00 C97.07,213.95 98.15,214.97 99.00,218.90 C99.85,222.83 100.42,229.37 101.00,234.60 C101.58,239.83 102.12,245.73 102.50,250.30 C102.88,254.87 103.17,260.05 103.30,262.00" fill="none" stroke="#6fa1d4" stroke-width="1.15" stroke-linejoin="round" />
<path d="M33.60,261.90 C34.00,258.98 34.78,248.95 36.00,244.40 C37.22,239.85 39.10,238.20 40.90,234.60 C42.70,231.00 45.17,227.38 46.80,222.80 C48.43,218.22 49.07,212.67 50.70,207.10 C52.33,201.53 54.63,193.98 56.60,189.40 C58.57,184.82 60.22,182.55 62.50,179.60 C64.78,176.65 67.85,174.17 70.30,171.70 C72.75,169.23 76.05,165.95 77.20,164.80" fill="none" stroke="#333333" stroke-width="1.15" stroke-linejoin="round" />
<path d="M77.20,164.80 C78.35,166.60 81.63,171.50 84.10,175.60 C86.57,179.70 89.52,184.80 92.00,189.40 C94.48,194.00 96.85,198.62 99.00,203.20 C101.15,207.78 103.27,212.65 104.90,216.90 C106.53,221.15 107.17,225.10 108.80,228.70 C110.43,232.30 113.22,235.55 114.70,238.50 C116.18,241.45 116.88,242.48 117.70,246.40 C118.52,250.32 119.28,259.40 119.60,262.00" fill="none" stroke="#333333" stroke-width="1.15" stroke-linejoin="round" />
<path d="M33.60,261.90 C34.15,259.32 35.37,250.62 36.90,246.40 C38.43,242.18 40.83,240.20 42.80,236.60 C44.77,233.00 46.73,229.72 48.70,224.80 C50.67,219.88 52.63,212.35 54.60,207.10 C56.57,201.85 58.20,197.23 60.50,193.30 C62.80,189.37 65.45,186.28 68.40,183.50 C71.35,180.72 74.40,179.72 78.20,176.60 C82.00,173.48 89.03,166.77 91.20,164.80" fill="none" stroke="#d23c4a" stroke-width="1.15" stroke-linejoin="round" />
<path d="M91.20,164.80 C92.50,166.60 96.38,172.15 99.00,175.60 C101.62,179.05 104.28,181.88 106.90,185.50 C109.52,189.12 112.08,193.05 114.70,197.30 C117.32,201.55 120.30,207.08 122.60,211.00 C124.90,214.92 126.53,217.20 128.50,220.80 C130.47,224.40 132.43,229.32 134.40,232.60 C136.37,235.88 138.67,237.55 140.30,240.50 C141.93,243.45 143.07,246.72 144.20,250.30 C145.33,253.88 146.62,260.05 147.10,262.00" fill="none" stroke="#d23c4a" stroke-width="1.15" stroke-linejoin="round" />
<rect x="33.50" y="156.50" width="132.00" height="105.00" fill="none" stroke="#222" stroke-width="1.25"/>
<text x="172.90" y="149.40" font-size="12.5" text-anchor="start" font-weight="bold" fill="#111" font-family="'Liberation Sans', sans-serif" stroke="#111" stroke-width="0.2" >(e)</text>
<line x1="199.90" y1="157.60" x2="201.90" y2="157.60" stroke="#222" stroke-width="0.8"/>
<text x="199.10" y="159.40" font-size="5" text-anchor="end" font-weight="bold" fill="#222" font-family="'Liberation Sans', sans-serif" stroke="#222" stroke-width="0.2" >0.6</text>
<line x1="199.90" y1="175.17" x2="201.90" y2="175.17" stroke="#222" stroke-width="0.8"/>
<text x="199.10" y="176.97" font-size="5" text-anchor="end" font-weight="bold" fill="#222" font-family="'Liberation Sans', sans-serif" stroke="#222" stroke-width="0.2" >0.5</text>
<line x1="199.90" y1="192.73" x2="201.90" y2="192.73" stroke="#222" stroke-width="0.8"/>
<text x="199.10" y="194.53" font-size="5" text-anchor="end" font-weight="bold" fill="#222" font-family="'Liberation Sans', sans-serif" stroke="#222" stroke-width="0.2" >0.4</text>
<line x1="199.90" y1="210.30" x2="201.90" y2="210.30" stroke="#222" stroke-width="0.8"/>
<text x="199.10" y="212.10" font-size="5" text-anchor="end" font-weight="bold" fill="#222" font-family="'Liberation Sans', sans-serif" stroke="#222" stroke-width="0.2" >0.3</text>
<line x1="199.90" y1="227.87" x2="201.90" y2="227.87" stroke="#222" stroke-width="0.8"/>
<text x="199.10" y="229.67" font-size="5" text-anchor="end" font-weight="bold" fill="#222" font-family="'Liberation Sans', sans-serif" stroke="#222" stroke-width="0.2" >0.2</text>
<line x1="199.90" y1="245.43" x2="201.90" y2="245.43" stroke="#222" stroke-width="0.8"/>
<text x="199.10" y="247.23" font-size="5" text-anchor="end" font-weight="bold" fill="#222" font-family="'Liberation Sans', sans-serif" stroke="#222" stroke-width="0.2" >0.1</text>
<line x1="199.90" y1="263.00" x2="201.90" y2="263.00" stroke="#222" stroke-width="0.8"/>
<text x="199.10" y="264.80" font-size="5" text-anchor="end" font-weight="bold" fill="#222" font-family="'Liberation Sans', sans-serif" stroke="#222" stroke-width="0.2" >0.0</text>
<line x1="200.70" y1="166.38" x2="201.90" y2="166.38" stroke="#222" stroke-width="0.7"/>
<line x1="200.70" y1="183.95" x2="201.90" y2="183.95" stroke="#222" stroke-width="0.7"/>
<line x1="200.70" y1="201.51" x2="201.90" y2="201.51" stroke="#222" stroke-width="0.7"/>
<line x1="200.70" y1="219.08" x2="201.90" y2="219.08" stroke="#222" stroke-width="0.7"/>
<line x1="200.70" y1="236.65" x2="201.90" y2="236.65" stroke="#222" stroke-width="0.7"/>
<line x1="200.70" y1="254.21" x2="201.90" y2="254.21" stroke="#222" stroke-width="0.7"/>
<line x1="202.00" y1="263.00" x2="202.00" y2="265.00" stroke="#222" stroke-width="0.8"/>
<text x="202.00" y="271.20" font-size="5" text-anchor="middle" font-weight="bold" fill="#111" font-family="'Liberation Sans', sans-serif" stroke="#111" stroke-width="0.2" >0</text>
<line x1="228.20" y1="263.00" x2="228.20" y2="265.00" stroke="#222" stroke-width="0.8"/>
<text x="228.20" y="271.20" font-size="5" text-anchor="middle" font-weight="bold" fill="#111" font-family="'Liberation Sans', sans-serif" stroke="#111" stroke-width="0.2" >100</text>
<line x1="254.40" y1="263.00" x2="254.40" y2="265.00" stroke="#222" stroke-width="0.8"/>
<text x="254.40" y="271.20" font-size="5" text-anchor="middle" font-weight="bold" fill="#111" font-family="'Liberation Sans', sans-serif" stroke="#111" stroke-width="0.2" >200</text>
<line x1="280.60" y1="263.00" x2="280.60" y2="265.00" stroke="#222" stroke-width="0.8"/>
<text x="280.60" y="271.20" font-size="5" text-anchor="middle" font-weight="bold" fill="#111" font-family="'Liberation Sans', sans-serif" stroke="#111" stroke-width="0.2" >300</text>
<line x1="306.80" y1="263.00" x2="306.80" y2="265.00" stroke="#222" stroke-width="0.8"/>
<text x="306.80" y="271.20" font-size="5" text-anchor="middle" font-weight="bold" fill="#111" font-family="'Liberation Sans', sans-serif" stroke="#111" stroke-width="0.2" >400</text>
<line x1="333.00" y1="263.00" x2="333.00" y2="265.00" stroke="#222" stroke-width="0.8"/>
<text x="333.00" y="271.20" font-size="5" text-anchor="middle" font-weight="bold" fill="#111" font-family="'Liberation Sans', sans-serif" stroke="#111" stroke-width="0.2" >500</text>
<line x1="215.10" y1="263.00" x2="215.10" y2="264.20" stroke="#222" stroke-width="0.7"/>
<line x1="241.30" y1="263.00" x2="241.30" y2="264.20" stroke="#222" stroke-width="0.7"/>
<line x1="267.50" y1="263.00" x2="267.50" y2="264.20" stroke="#222" stroke-width="0.7"/>
<line x1="293.70" y1="263.00" x2="293.70" y2="264.20" stroke="#222" stroke-width="0.7"/>
<line x1="319.90" y1="263.00" x2="319.90" y2="264.20" stroke="#222" stroke-width="0.7"/>
<text x="267.50" y="279.80" font-size="6" text-anchor="middle" font-weight="bold" fill="#111" font-family="'Liberation Sans', sans-serif" stroke="#111" stroke-width="0.2" >Time (s)</text>
<text x="187.50" y="210.00" font-size="6" text-anchor="middle" font-weight="bold" fill="#111" font-family="'Liberation Sans', sans-serif" stroke="#111" stroke-width="0.2" transform="rotate(-90 187.50 210.00)" >Potential (V vs.Hg/HgO)</text>
<line x1="297.5" y1="164.5" x2="309.3" y2="164.5" stroke="#333333" stroke-width="1.1"/>
<text x="315.60" y="166.40" font-size="5.2" text-anchor="end" font-weight="bold" fill="#111" font-family="'Liberation Sans', sans-serif" stroke="#111" stroke-width="0.2" >1</text>
<text x="317.90" y="166.40" font-size="5.2" text-anchor="start" font-weight="bold" fill="#111" font-family="'Liberation Sans', sans-serif" stroke="#111" stroke-width="0.2" >A</text>
<text x="322.90" y="166.40" font-size="5.2" text-anchor="start" font-weight="bold" fill="#111" font-family="'Liberation Sans', sans-serif" stroke="#111" stroke-width="0.2" >g<tspan dy="-2" font-size="3.3">-1</tspan></text>
<line x1="297.5" y1="171.1" x2="309.3" y2="171.1" stroke="#d23c4a" stroke-width="1.1"/>
<text x="315.60" y="173.00" font-size="5.2" text-anchor="end" font-weight="bold" fill="#111" font-family="'Liberation Sans', sans-serif" stroke="#111" stroke-width="0.2" >2</text>
<text x="317.90" y="173.00" font-size="5.2" text-anchor="start" font-weight="bold" fill="#111" font-family="'Liberation Sans', sans-serif" stroke="#111" stroke-width="0.2" >A</text>
<text x="322.90" y="173.00" font-size="5.2" text-anchor="start" font-weight="bold" fill="#111" font-family="'Liberation Sans', sans-serif" stroke="#111" stroke-width="0.2" >g<tspan dy="-2" font-size="3.3">-1</tspan></text>
<line x1="297.5" y1="177.8" x2="309.3" y2="177.8" stroke="#6cc99a" stroke-width="1.1"/>
<text x="315.60" y="179.70" font-size="5.2" text-anchor="end" font-weight="bold" fill="#111" font-family="'Liberation Sans', sans-serif" stroke="#111" stroke-width="0.2" >3</text>
<text x="317.90" y="179.70" font-size="5.2" text-anchor="start" font-weight="bold" fill="#111" font-family="'Liberation Sans', sans-serif" stroke="#111" stroke-width="0.2" >A</text>
<text x="322.90" y="179.70" font-size="5.2" text-anchor="start" font-weight="bold" fill="#111" font-family="'Liberation Sans', sans-serif" stroke="#111" stroke-width="0.2" >g<tspan dy="-2" font-size="3.3">-1</tspan></text>
<line x1="297.5" y1="184.6" x2="309.3" y2="184.6" stroke="#6fa1d4" stroke-width="1.1"/>
<text x="315.60" y="186.50" font-size="5.2" text-anchor="end" font-weight="bold" fill="#111" font-family="'Liberation Sans', sans-serif" stroke="#111" stroke-width="0.2" >5</text>
<text x="317.90" y="186.50" font-size="5.2" text-anchor="start" font-weight="bold" fill="#111" font-family="'Liberation Sans', sans-serif" stroke="#111" stroke-width="0.2" >A</text>
<text x="322.90" y="186.50" font-size="5.2" text-anchor="start" font-weight="bold" fill="#111" font-family="'Liberation Sans', sans-serif" stroke="#111" stroke-width="0.2" >g<tspan dy="-2" font-size="3.3">-1</tspan></text>
<line x1="297.5" y1="191.5" x2="309.3" y2="191.5" stroke="#f0a060" stroke-width="1.1"/>
<text x="315.60" y="193.40" font-size="5.2" text-anchor="end" font-weight="bold" fill="#111" font-family="'Liberation Sans', sans-serif" stroke="#111" stroke-width="0.2" >10</text>
<text x="317.90" y="193.40" font-size="5.2" text-anchor="start" font-weight="bold" fill="#111" font-family="'Liberation Sans', sans-serif" stroke="#111" stroke-width="0.2" >A</text>
<text x="322.90" y="193.40" font-size="5.2" text-anchor="start" font-weight="bold" fill="#111" font-family="'Liberation Sans', sans-serif" stroke="#111" stroke-width="0.2" >g<tspan dy="-2" font-size="3.3">-1</tspan></text>
<path d="M202.60,262.00 C203.15,259.88 204.37,253.05 205.90,249.30 C207.43,245.55 209.83,242.77 211.80,239.50 C213.77,236.23 216.07,232.97 217.70,229.70 C219.33,226.43 219.97,224.15 221.60,219.90 C223.23,215.65 225.53,208.47 227.50,204.20 C229.47,199.93 231.10,197.42 233.40,194.30 C235.70,191.18 238.35,188.28 241.30,185.50 C244.25,182.72 247.17,180.88 251.10,177.60 C255.03,174.32 262.60,167.77 264.90,165.80" fill="none" stroke="#333333" stroke-width="1.15" stroke-linejoin="round" />
<path d="M264.90,165.80 C265.42,166.47 266.17,168.00 268.00,169.80 C269.83,171.60 273.28,173.98 275.90,176.60 C278.52,179.22 281.08,182.22 283.70,185.50 C286.32,188.78 288.98,192.53 291.60,196.30 C294.22,200.07 297.12,204.17 299.40,208.10 C301.68,212.03 303.33,215.97 305.30,219.90 C307.27,223.83 308.90,228.10 311.20,231.70 C313.50,235.30 316.97,238.23 319.10,241.50 C321.23,244.77 322.70,247.72 324.00,251.30 C325.30,254.88 326.42,261.05 326.90,263.00" fill="none" stroke="#333333" stroke-width="1.15" stroke-linejoin="round" />
<path d="M202.60,262.00 C203.15,259.23 204.68,251.43 205.90,245.40 C207.12,239.37 208.58,233.00 209.90,225.80 C211.22,218.60 212.17,208.75 213.80,202.20 C215.43,195.65 217.73,190.77 219.70,186.50 C221.67,182.23 223.42,180.05 225.60,176.60 C227.78,173.15 231.60,167.60 232.80,165.80" fill="none" stroke="#d23c4a" stroke-width="1.15" stroke-linejoin="round" />
<path d="M232.80,165.80 C233.72,167.93 236.40,173.52 238.30,178.60 C240.20,183.68 242.23,190.08 244.20,196.30 C246.17,202.52 248.30,210.00 250.10,215.90 C251.90,221.80 253.52,227.43 255.00,231.70 C256.48,235.97 257.85,238.23 259.00,241.50 C260.15,244.77 261.18,247.72 261.90,251.30 C262.62,254.88 263.07,261.05 263.30,263.00" fill="none" stroke="#d23c4a" stroke-width="1.15" stroke-linejoin="round" />
<path d="M202.60,262.00 C203.15,258.25 204.68,247.83 205.90,239.50 C207.12,231.17 208.58,220.18 209.90,212.00 C211.22,203.82 212.50,196.30 213.80,190.40 C215.10,184.50 216.30,180.70 217.70,176.60 C219.10,172.50 221.45,167.60 222.20,165.80" fill="none" stroke="#6cc99a" stroke-width="1.15" stroke-linejoin="round" />
<path d="M222.20,165.80 C222.93,168.92 225.05,177.78 226.60,184.50 C228.15,191.22 229.87,198.90 231.50,206.10 C233.13,213.30 235.10,221.80 236.40,227.70 C237.70,233.60 238.32,235.62 239.30,241.50 C240.28,247.38 241.80,259.42 242.30,263.00" fill="none" stroke="#6cc99a" stroke-width="1.15" stroke-linejoin="round" />
<path d="M202.60,262.00 C202.98,258.25 204.02,248.82 204.90,239.50 C205.78,230.18 206.92,216.25 207.90,206.10 C208.88,195.95 209.82,185.32 210.80,178.60 C211.78,171.88 213.30,167.93 213.80,165.80" fill="none" stroke="#6fa1d4" stroke-width="1.15" stroke-linejoin="round" />
<path d="M213.80,165.80 C214.28,169.25 215.72,179.13 216.70,186.50 C217.68,193.87 218.72,201.82 219.70,210.00 C220.68,218.18 221.62,226.77 222.60,235.60 C223.58,244.43 225.10,258.43 225.60,263.00" fill="none" stroke="#6fa1d4" stroke-width="1.15" stroke-linejoin="round" />
<path d="M202.60,262.00 C202.83,257.60 203.52,246.55 204.00,235.60 C204.48,224.65 204.95,207.93 205.50,196.30 C206.05,184.67 207.00,170.88 207.30,165.80" fill="none" stroke="#f0a060" stroke-width="1.15" stroke-linejoin="round" />
<path d="M207.30,165.80 C207.57,169.25 208.32,176.50 208.90,186.50 C209.48,196.50 210.25,215.00 210.80,225.80 C211.35,236.60 211.80,245.10 212.20,251.30 C212.60,257.50 213.03,261.05 213.20,263.00" fill="none" stroke="#f0a060" stroke-width="1.15" stroke-linejoin="round" />
<rect x="201.50" y="157.50" width="132.00" height="106.00" fill="none" stroke="#222" stroke-width="1.25"/>
<text x="342.80" y="150.20" font-size="12.5" text-anchor="start" font-weight="bold" fill="#111" font-family="'Liberation Sans', sans-serif" stroke="#111" stroke-width="0.2" >(f)</text>
<line x1="368.50" y1="165.20" x2="370.50" y2="165.20" stroke="#222" stroke-width="0.8"/>
<text x="367.70" y="167.00" font-size="5" text-anchor="end" font-weight="bold" fill="#222" font-family="'Liberation Sans', sans-serif" stroke="#222" stroke-width="0.2" >100</text>
<line x1="368.50" y1="184.46" x2="370.50" y2="184.46" stroke="#222" stroke-width="0.8"/>
<text x="367.70" y="186.26" font-size="5" text-anchor="end" font-weight="bold" fill="#222" font-family="'Liberation Sans', sans-serif" stroke="#222" stroke-width="0.2" >80</text>
<line x1="368.50" y1="203.72" x2="370.50" y2="203.72" stroke="#222" stroke-width="0.8"/>
<text x="367.70" y="205.52" font-size="5" text-anchor="end" font-weight="bold" fill="#222" font-family="'Liberation Sans', sans-serif" stroke="#222" stroke-width="0.2" >60</text>
<line x1="368.50" y1="222.98" x2="370.50" y2="222.98" stroke="#222" stroke-width="0.8"/>
<text x="367.70" y="224.78" font-size="5" text-anchor="end" font-weight="bold" fill="#222" font-family="'Liberation Sans', sans-serif" stroke="#222" stroke-width="0.2" >40</text>
<line x1="368.50" y1="242.24" x2="370.50" y2="242.24" stroke="#222" stroke-width="0.8"/>
<text x="367.70" y="244.04" font-size="5" text-anchor="end" font-weight="bold" fill="#222" font-family="'Liberation Sans', sans-serif" stroke="#222" stroke-width="0.2" >20</text>
<line x1="368.50" y1="261.50" x2="370.50" y2="261.50" stroke="#222" stroke-width="0.8"/>
<text x="367.70" y="263.30" font-size="5" text-anchor="end" font-weight="bold" fill="#222" font-family="'Liberation Sans', sans-serif" stroke="#222" stroke-width="0.2" >0</text>
<line x1="369.30" y1="174.83" x2="370.50" y2="174.83" stroke="#222" stroke-width="0.7"/>
<line x1="369.30" y1="194.09" x2="370.50" y2="194.09" stroke="#222" stroke-width="0.7"/>
<line x1="369.30" y1="213.35" x2="370.50" y2="213.35" stroke="#222" stroke-width="0.7"/>
<line x1="369.30" y1="232.61" x2="370.50" y2="232.61" stroke="#222" stroke-width="0.7"/>
<line x1="369.30" y1="251.87" x2="370.50" y2="251.87" stroke="#222" stroke-width="0.7"/>
<line x1="501.90" y1="165.20" x2="503.90" y2="165.20" stroke="#e0303a" stroke-width="0.8"/>
<text x="504.70" y="167.00" font-size="5" text-anchor="start" font-weight="bold" fill="#e0303a" font-family="'Liberation Sans', sans-serif" stroke="#e0303a" stroke-width="0.2" >100</text>
<line x1="501.90" y1="184.46" x2="503.90" y2="184.46" stroke="#e0303a" stroke-width="0.8"/>
<text x="504.70" y="186.26" font-size="5" text-anchor="start" font-weight="bold" fill="#e0303a" font-family="'Liberation Sans', sans-serif" stroke="#e0303a" stroke-width="0.2" >80</text>
<line x1="501.90" y1="203.72" x2="503.90" y2="203.72" stroke="#e0303a" stroke-width="0.8"/>
<text x="504.70" y="205.52" font-size="5" text-anchor="start" font-weight="bold" fill="#e0303a" font-family="'Liberation Sans', sans-serif" stroke="#e0303a" stroke-width="0.2" >60</text>
<line x1="501.90" y1="222.98" x2="503.90" y2="222.98" stroke="#e0303a" stroke-width="0.8"/>
<text x="504.70" y="224.78" font-size="5" text-anchor="start" font-weight="bold" fill="#e0303a" font-family="'Liberation Sans', sans-serif" stroke="#e0303a" stroke-width="0.2" >40</text>
<line x1="501.90" y1="242.24" x2="503.90" y2="242.24" stroke="#e0303a" stroke-width="0.8"/>
<text x="504.70" y="244.04" font-size="5" text-anchor="start" font-weight="bold" fill="#e0303a" font-family="'Liberation Sans', sans-serif" stroke="#e0303a" stroke-width="0.2" >20</text>
<line x1="501.90" y1="261.50" x2="503.90" y2="261.50" stroke="#e0303a" stroke-width="0.8"/>
<text x="504.70" y="263.30" font-size="5" text-anchor="start" font-weight="bold" fill="#e0303a" font-family="'Liberation Sans', sans-serif" stroke="#e0303a" stroke-width="0.2" >0</text>
<line x1="501.90" y1="174.83" x2="503.10" y2="174.83" stroke="#e0303a" stroke-width="0.7"/>
<line x1="501.90" y1="194.09" x2="503.10" y2="194.09" stroke="#e0303a" stroke-width="0.7"/>
<line x1="501.90" y1="213.35" x2="503.10" y2="213.35" stroke="#e0303a" stroke-width="0.7"/>
<line x1="501.90" y1="232.61" x2="503.10" y2="232.61" stroke="#e0303a" stroke-width="0.7"/>
<line x1="501.90" y1="251.87" x2="503.10" y2="251.87" stroke="#e0303a" stroke-width="0.7"/>
<line x1="370.50" y1="261.50" x2="370.50" y2="263.50" stroke="#222" stroke-width="0.8"/>
<text x="370.50" y="269.80" font-size="5" text-anchor="middle" font-weight="bold" fill="#111" font-family="'Liberation Sans', sans-serif" stroke="#111" stroke-width="0.2" >0</text>
<line x1="396.78" y1="261.50" x2="396.78" y2="263.50" stroke="#222" stroke-width="0.8"/>
<text x="396.78" y="269.80" font-size="5" text-anchor="middle" font-weight="bold" fill="#111" font-family="'Liberation Sans', sans-serif" stroke="#111" stroke-width="0.2" >2,000</text>
<line x1="423.06" y1="261.50" x2="423.06" y2="263.50" stroke="#222" stroke-width="0.8"/>
<text x="423.06" y="269.80" font-size="5" text-anchor="middle" font-weight="bold" fill="#111" font-family="'Liberation Sans', sans-serif" stroke="#111" stroke-width="0.2" >4,000</text>
<line x1="449.34" y1="261.50" x2="449.34" y2="263.50" stroke="#222" stroke-width="0.8"/>
<text x="449.34" y="269.80" font-size="5" text-anchor="middle" font-weight="bold" fill="#111" font-family="'Liberation Sans', sans-serif" stroke="#111" stroke-width="0.2" >6,000</text>
<line x1="475.62" y1="261.50" x2="475.62" y2="263.50" stroke="#222" stroke-width="0.8"/>
<text x="475.62" y="269.80" font-size="5" text-anchor="middle" font-weight="bold" fill="#111" font-family="'Liberation Sans', sans-serif" stroke="#111" stroke-width="0.2" >8,000</text>
<line x1="501.90" y1="261.50" x2="501.90" y2="263.50" stroke="#222" stroke-width="0.8"/>
<text x="501.90" y="269.80" font-size="5" text-anchor="middle" font-weight="bold" fill="#111" font-family="'Liberation Sans', sans-serif" stroke="#111" stroke-width="0.2" >10,000</text>
<line x1="383.64" y1="261.50" x2="383.64" y2="262.70" stroke="#222" stroke-width="0.7"/>
<line x1="409.92" y1="261.50" x2="409.92" y2="262.70" stroke="#222" stroke-width="0.7"/>
<line x1="436.20" y1="261.50" x2="436.20" y2="262.70" stroke="#222" stroke-width="0.7"/>
<line x1="462.48" y1="261.50" x2="462.48" y2="262.70" stroke="#222" stroke-width="0.7"/>
<line x1="488.76" y1="261.50" x2="488.76" y2="262.70" stroke="#222" stroke-width="0.7"/>
<text x="436.00" y="278.80" font-size="6" text-anchor="middle" font-weight="bold" fill="#111" font-family="'Liberation Sans', sans-serif" stroke="#111" stroke-width="0.2" >Cycle Number</text>
<text x="353.50" y="208.50" font-size="6" text-anchor="middle" font-weight="bold" fill="#111" font-family="'Liberation Sans', sans-serif" stroke="#111" stroke-width="0.2" transform="rotate(-90 353.50 208.50)" >Capacitance Retention (%)</text>
<text x="521.80" y="211.00" font-size="6" text-anchor="middle" font-weight="bold" fill="#e0303a" font-family="'Liberation Sans', sans-serif" stroke="#e0303a" stroke-width="0.2" transform="rotate(-90 521.80 211.00)" >Coulombic Efficiency (%)</text>
<circle cx="373.00" cy="167.33" r="1.45" fill="url(#gBallG)" stroke="#222" stroke-width="0.3"/>
<circle cx="376.23" cy="168.03" r="1.45" fill="url(#gBallG)" stroke="#222" stroke-width="0.3"/>
<circle cx="379.46" cy="168.87" r="1.45" fill="url(#gBallG)" stroke="#222" stroke-width="0.3"/>
<circle cx="382.69" cy="169.32" r="1.45" fill="url(#gBallG)" stroke="#222" stroke-width="0.3"/>
<circle cx="385.92" cy="169.89" r="1.45" fill="url(#gBallG)" stroke="#222" stroke-width="0.3"/>
<circle cx="389.15" cy="170.88" r="1.45" fill="url(#gBallG)" stroke="#222" stroke-width="0.3"/>
<circle cx="392.38" cy="171.45" r="1.45" fill="url(#gBallG)" stroke="#222" stroke-width="0.3"/>
<circle cx="395.62" cy="171.34" r="1.45" fill="url(#gBallG)" stroke="#222" stroke-width="0.3"/>
<circle cx="398.85" cy="172.28" r="1.45" fill="url(#gBallG)" stroke="#222" stroke-width="0.3"/>
<circle cx="402.08" cy="172.80" r="1.45" fill="url(#gBallG)" stroke="#222" stroke-width="0.3"/>
<circle cx="405.31" cy="172.69" r="1.45" fill="url(#gBallG)" stroke="#222" stroke-width="0.3"/>
<circle cx="408.54" cy="173.57" r="1.45" fill="url(#gBallG)" stroke="#222" stroke-width="0.3"/>
<circle cx="411.77" cy="173.62" r="1.45" fill="url(#gBallG)" stroke="#222" stroke-width="0.3"/>
<circle cx="415.00" cy="173.93" r="1.45" fill="url(#gBallG)" stroke="#222" stroke-width="0.3"/>
<circle cx="418.23" cy="173.84" r="1.45" fill="url(#gBallG)" stroke="#222" stroke-width="0.3"/>
<circle cx="421.46" cy="174.25" r="1.45" fill="url(#gBallG)" stroke="#222" stroke-width="0.3"/>
<circle cx="424.69" cy="173.91" r="1.45" fill="url(#gBallG)" stroke="#222" stroke-width="0.3"/>
<circle cx="427.92" cy="173.77" r="1.45" fill="url(#gBallG)" stroke="#222" stroke-width="0.3"/>
<circle cx="431.15" cy="174.07" r="1.45" fill="url(#gBallG)" stroke="#222" stroke-width="0.3"/>
<circle cx="434.38" cy="173.94" r="1.45" fill="url(#gBallG)" stroke="#222" stroke-width="0.3"/>
<circle cx="437.62" cy="174.03" r="1.45" fill="url(#gBallG)" stroke="#222" stroke-width="0.3"/>
<circle cx="440.85" cy="174.53" r="1.45" fill="url(#gBallG)" stroke="#222" stroke-width="0.3"/>
<circle cx="444.08" cy="174.03" r="1.45" fill="url(#gBallG)" stroke="#222" stroke-width="0.3"/>
<circle cx="447.31" cy="174.20" r="1.45" fill="url(#gBallG)" stroke="#222" stroke-width="0.3"/>
<circle cx="450.54" cy="174.45" r="1.45" fill="url(#gBallG)" stroke="#222" stroke-width="0.3"/>
<circle cx="453.77" cy="174.70" r="1.45" fill="url(#gBallG)" stroke="#222" stroke-width="0.3"/>
<circle cx="457.00" cy="174.09" r="1.45" fill="url(#gBallG)" stroke="#222" stroke-width="0.3"/>
<circle cx="460.23" cy="174.43" r="1.45" fill="url(#gBallG)" stroke="#222" stroke-width="0.3"/>
<circle cx="463.46" cy="174.27" r="1.45" fill="url(#gBallG)" stroke="#222" stroke-width="0.3"/>
<circle cx="466.69" cy="174.19" r="1.45" fill="url(#gBallG)" stroke="#222" stroke-width="0.3"/>
<circle cx="469.92" cy="174.35" r="1.45" fill="url(#gBallG)" stroke="#222" stroke-width="0.3"/>
<circle cx="473.15" cy="174.22" r="1.45" fill="url(#gBallG)" stroke="#222" stroke-width="0.3"/>
<circle cx="476.38" cy="174.66" r="1.45" fill="url(#gBallG)" stroke="#222" stroke-width="0.3"/>
<circle cx="479.62" cy="174.39" r="1.45" fill="url(#gBallG)" stroke="#222" stroke-width="0.3"/>
<circle cx="482.85" cy="174.70" r="1.45" fill="url(#gBallG)" stroke="#222" stroke-width="0.3"/>
<circle cx="486.08" cy="174.35" r="1.45" fill="url(#gBallG)" stroke="#222" stroke-width="0.3"/>
<circle cx="489.31" cy="174.43" r="1.45" fill="url(#gBallG)" stroke="#222" stroke-width="0.3"/>
<circle cx="492.54" cy="175.07" r="1.45" fill="url(#gBallG)" stroke="#222" stroke-width="0.3"/>
<circle cx="495.77" cy="175.08" r="1.45" fill="url(#gBallG)" stroke="#222" stroke-width="0.3"/>
<circle cx="499.00" cy="175.05" r="1.45" fill="url(#gBallG)" stroke="#222" stroke-width="0.3"/>
<circle cx="372.50" cy="165.91" r="1.45" fill="url(#gBallR)" stroke="#c01818" stroke-width="0.3"/>
<circle cx="375.77" cy="166.42" r="1.45" fill="url(#gBallR)" stroke="#c01818" stroke-width="0.3"/>
<circle cx="379.04" cy="166.23" r="1.45" fill="url(#gBallR)" stroke="#c01818" stroke-width="0.3"/>
<circle cx="382.31" cy="166.55" r="1.45" fill="url(#gBallR)" stroke="#c01818" stroke-width="0.3"/>
<circle cx="385.58" cy="166.35" r="1.45" fill="url(#gBallR)" stroke="#c01818" stroke-width="0.3"/>
<circle cx="388.85" cy="166.47" r="1.45" fill="url(#gBallR)" stroke="#c01818" stroke-width="0.3"/>
<circle cx="392.12" cy="166.50" r="1.45" fill="url(#gBallR)" stroke="#c01818" stroke-width="0.3"/>
<circle cx="395.38" cy="166.27" r="1.45" fill="url(#gBallR)" stroke="#c01818" stroke-width="0.3"/>
<circle cx="398.65" cy="166.27" r="1.45" fill="url(#gBallR)" stroke="#c01818" stroke-width="0.3"/>
<circle cx="401.92" cy="165.97" r="1.45" fill="url(#gBallR)" stroke="#c01818" stroke-width="0.3"/>
<circle cx="405.19" cy="166.18" r="1.45" fill="url(#gBallR)" stroke="#c01818" stroke-width="0.3"/>
<circle cx="408.46" cy="165.94" r="1.45" fill="url(#gBallR)" stroke="#c01818" stroke-width="0.3"/>
<circle cx="411.73" cy="166.01" r="1.45" fill="url(#gBallR)" stroke="#c01818" stroke-width="0.3"/>
<circle cx="415.00" cy="165.88" r="1.45" fill="url(#gBallR)" stroke="#c01818" stroke-width="0.3"/>
<circle cx="418.27" cy="166.19" r="1.45" fill="url(#gBallR)" stroke="#c01818" stroke-width="0.3"/>
<circle cx="421.54" cy="166.68" r="1.45" fill="url(#gBallR)" stroke="#c01818" stroke-width="0.3"/>
<circle cx="424.81" cy="166.01" r="1.45" fill="url(#gBallR)" stroke="#c01818" stroke-width="0.3"/>
<circle cx="428.08" cy="165.91" r="1.45" fill="url(#gBallR)" stroke="#c01818" stroke-width="0.3"/>
<circle cx="431.35" cy="165.97" r="1.45" fill="url(#gBallR)" stroke="#c01818" stroke-width="0.3"/>
<circle cx="434.62" cy="166.29" r="1.45" fill="url(#gBallR)" stroke="#c01818" stroke-width="0.3"/>
<circle cx="437.88" cy="166.15" r="1.45" fill="url(#gBallR)" stroke="#c01818" stroke-width="0.3"/>
<circle cx="441.15" cy="166.63" r="1.45" fill="url(#gBallR)" stroke="#c01818" stroke-width="0.3"/>
<circle cx="444.42" cy="166.04" r="1.45" fill="url(#gBallR)" stroke="#c01818" stroke-width="0.3"/>
<circle cx="447.69" cy="166.28" r="1.45" fill="url(#gBallR)" stroke="#c01818" stroke-width="0.3"/>
<circle cx="450.96" cy="166.56" r="1.45" fill="url(#gBallR)" stroke="#c01818" stroke-width="0.3"/>
<circle cx="454.23" cy="166.78" r="1.45" fill="url(#gBallR)" stroke="#c01818" stroke-width="0.3"/>
<circle cx="457.50" cy="166.01" r="1.45" fill="url(#gBallR)" stroke="#c01818" stroke-width="0.3"/>
<circle cx="460.77" cy="165.88" r="1.45" fill="url(#gBallR)" stroke="#c01818" stroke-width="0.3"/>
<circle cx="464.04" cy="166.75" r="1.45" fill="url(#gBallR)" stroke="#c01818" stroke-width="0.3"/>
<circle cx="467.31" cy="166.07" r="1.45" fill="url(#gBallR)" stroke="#c01818" stroke-width="0.3"/>
<circle cx="470.58" cy="166.44" r="1.45" fill="url(#gBallR)" stroke="#c01818" stroke-width="0.3"/>
<circle cx="473.85" cy="166.69" r="1.45" fill="url(#gBallR)" stroke="#c01818" stroke-width="0.3"/>
<circle cx="477.12" cy="166.55" r="1.45" fill="url(#gBallR)" stroke="#c01818" stroke-width="0.3"/>
<circle cx="480.38" cy="166.10" r="1.45" fill="url(#gBallR)" stroke="#c01818" stroke-width="0.3"/>
<circle cx="483.65" cy="166.00" r="1.45" fill="url(#gBallR)" stroke="#c01818" stroke-width="0.3"/>
<circle cx="486.92" cy="166.79" r="1.45" fill="url(#gBallR)" stroke="#c01818" stroke-width="0.3"/>
<circle cx="490.19" cy="166.25" r="1.45" fill="url(#gBallR)" stroke="#c01818" stroke-width="0.3"/>
<circle cx="493.46" cy="166.79" r="1.45" fill="url(#gBallR)" stroke="#c01818" stroke-width="0.3"/>
<circle cx="496.73" cy="166.15" r="1.45" fill="url(#gBallR)" stroke="#c01818" stroke-width="0.3"/>
<circle cx="500.00" cy="166.52" r="1.45" fill="url(#gBallR)" stroke="#c01818" stroke-width="0.3"/>
<line x1="380.6" y1="171.5" x2="373" y2="176.8" stroke="#222" stroke-width="0.5"/>
<path d="M372,177.5 L374.6,174.9 L375.3,176.2Z" fill="#222"/>
<line x1="491.9" y1="164.3" x2="499.8" y2="160" stroke="#e0303a" stroke-width="0.5"/>
<path d="M500.8,159.5 L498.1,161.8 L497.5,160.4Z" fill="#e0303a"/>
<line x1="370.5" y1="155.6" x2="501.9" y2="155.6" stroke="#222" stroke-width="1.1"/>
<line x1="370.5" y1="155.6" x2="370.5" y2="261.5" stroke="#222" stroke-width="1.1"/>
<line x1="370.5" y1="261.5" x2="501.9" y2="261.5" stroke="#222" stroke-width="1.1"/>
<line x1="501.9" y1="155.6" x2="501.9" y2="261.5" stroke="#e0303a" stroke-width="1.1"/>
<text x="4.50" y="277.50" font-size="12.5" text-anchor="start" font-weight="bold" fill="#111" font-family="'Liberation Sans', sans-serif" stroke="#111" stroke-width="0.2" >(g)</text>
<line x1="31.40" y1="287.40" x2="33.40" y2="287.40" stroke="#222" stroke-width="0.8"/>
<text x="30.60" y="289.20" font-size="5" text-anchor="end" font-weight="bold" fill="#222" font-family="'Liberation Sans', sans-serif" stroke="#222" stroke-width="0.2" >2.0</text>
<line x1="31.40" y1="305.03" x2="33.40" y2="305.03" stroke="#222" stroke-width="0.8"/>
<text x="30.60" y="306.83" font-size="5" text-anchor="end" font-weight="bold" fill="#222" font-family="'Liberation Sans', sans-serif" stroke="#222" stroke-width="0.2" >1.8</text>
<line x1="31.40" y1="322.67" x2="33.40" y2="322.67" stroke="#222" stroke-width="0.8"/>
<text x="30.60" y="324.47" font-size="5" text-anchor="end" font-weight="bold" fill="#222" font-family="'Liberation Sans', sans-serif" stroke="#222" stroke-width="0.2" >1.6</text>
<line x1="31.40" y1="340.30" x2="33.40" y2="340.30" stroke="#222" stroke-width="0.8"/>
<text x="30.60" y="342.10" font-size="5" text-anchor="end" font-weight="bold" fill="#222" font-family="'Liberation Sans', sans-serif" stroke="#222" stroke-width="0.2" >1.4</text>
<line x1="31.40" y1="357.93" x2="33.40" y2="357.93" stroke="#222" stroke-width="0.8"/>
<text x="30.60" y="359.73" font-size="5" text-anchor="end" font-weight="bold" fill="#222" font-family="'Liberation Sans', sans-serif" stroke="#222" stroke-width="0.2" >1.2</text>
<line x1="31.40" y1="375.57" x2="33.40" y2="375.57" stroke="#222" stroke-width="0.8"/>
<text x="30.60" y="377.37" font-size="5" text-anchor="end" font-weight="bold" fill="#222" font-family="'Liberation Sans', sans-serif" stroke="#222" stroke-width="0.2" >1.0</text>
<line x1="31.40" y1="393.20" x2="33.40" y2="393.20" stroke="#222" stroke-width="0.8"/>
<text x="30.60" y="395.00" font-size="5" text-anchor="end" font-weight="bold" fill="#222" font-family="'Liberation Sans', sans-serif" stroke="#222" stroke-width="0.2" >0.8</text>
<line x1="32.20" y1="296.22" x2="33.40" y2="296.22" stroke="#222" stroke-width="0.7"/>
<line x1="32.20" y1="313.85" x2="33.40" y2="313.85" stroke="#222" stroke-width="0.7"/>
<line x1="32.20" y1="331.49" x2="33.40" y2="331.49" stroke="#222" stroke-width="0.7"/>
<line x1="32.20" y1="349.12" x2="33.40" y2="349.12" stroke="#222" stroke-width="0.7"/>
<line x1="32.20" y1="366.75" x2="33.40" y2="366.75" stroke="#222" stroke-width="0.7"/>
<line x1="32.20" y1="384.39" x2="33.40" y2="384.39" stroke="#222" stroke-width="0.7"/>
<line x1="33.40" y1="393.20" x2="33.40" y2="395.20" stroke="#222" stroke-width="0.8"/>
<text x="33.40" y="399.60" font-size="5" text-anchor="middle" font-weight="bold" fill="#111" font-family="'Liberation Sans', sans-serif" stroke="#111" stroke-width="0.2" >0.6</text>
<line x1="52.26" y1="393.20" x2="52.26" y2="395.20" stroke="#222" stroke-width="0.8"/>
<text x="52.26" y="399.60" font-size="5" text-anchor="middle" font-weight="bold" fill="#111" font-family="'Liberation Sans', sans-serif" stroke="#111" stroke-width="0.2" >0.8</text>
<line x1="71.11" y1="393.20" x2="71.11" y2="395.20" stroke="#222" stroke-width="0.8"/>
<text x="71.11" y="399.60" font-size="5" text-anchor="middle" font-weight="bold" fill="#111" font-family="'Liberation Sans', sans-serif" stroke="#111" stroke-width="0.2" >1.0</text>
<line x1="89.97" y1="393.20" x2="89.97" y2="395.20" stroke="#222" stroke-width="0.8"/>
<text x="89.97" y="399.60" font-size="5" text-anchor="middle" font-weight="bold" fill="#111" font-family="'Liberation Sans', sans-serif" stroke="#111" stroke-width="0.2" >1.2</text>
<line x1="108.83" y1="393.20" x2="108.83" y2="395.20" stroke="#222" stroke-width="0.8"/>
<text x="108.83" y="399.60" font-size="5" text-anchor="middle" font-weight="bold" fill="#111" font-family="'Liberation Sans', sans-serif" stroke="#111" stroke-width="0.2" >1.4</text>
<line x1="127.69" y1="393.20" x2="127.69" y2="395.20" stroke="#222" stroke-width="0.8"/>
<text x="127.69" y="399.60" font-size="5" text-anchor="middle" font-weight="bold" fill="#111" font-family="'Liberation Sans', sans-serif" stroke="#111" stroke-width="0.2" >1.6</text>
<line x1="146.54" y1="393.20" x2="146.54" y2="395.20" stroke="#222" stroke-width="0.8"/>
<text x="146.54" y="399.60" font-size="5" text-anchor="middle" font-weight="bold" fill="#111" font-family="'Liberation Sans', sans-serif" stroke="#111" stroke-width="0.2" >1.8</text>
<line x1="165.40" y1="393.20" x2="165.40" y2="395.20" stroke="#222" stroke-width="0.8"/>
<text x="165.40" y="399.60" font-size="5" text-anchor="middle" font-weight="bold" fill="#111" font-family="'Liberation Sans', sans-serif" stroke="#111" stroke-width="0.2" >2.0</text>
<line x1="42.83" y1="393.20" x2="42.83" y2="394.40" stroke="#222" stroke-width="0.7"/>
<line x1="61.69" y1="393.20" x2="61.69" y2="394.40" stroke="#222" stroke-width="0.7"/>
<line x1="80.54" y1="393.20" x2="80.54" y2="394.40" stroke="#222" stroke-width="0.7"/>
<line x1="99.40" y1="393.20" x2="99.40" y2="394.40" stroke="#222" stroke-width="0.7"/>
<line x1="118.26" y1="393.20" x2="118.26" y2="394.40" stroke="#222" stroke-width="0.7"/>
<line x1="137.12" y1="393.20" x2="137.12" y2="394.40" stroke="#222" stroke-width="0.7"/>
<line x1="155.97" y1="393.20" x2="155.97" y2="394.40" stroke="#222" stroke-width="0.7"/>
<text x="99.40" y="411.00" font-size="6" text-anchor="middle" font-weight="bold" fill="#111" font-family="'Liberation Sans', sans-serif" stroke="#111" stroke-width="0.2" >log (v, scan rate )</text>
<text x="19.40" y="340.50" font-size="5.9" text-anchor="middle" font-weight="bold" fill="#111" font-family="'Liberation Sans', sans-serif" stroke="#111" stroke-width="0.2" transform="rotate(-90 19.40 340.50)" >log (i, current)</text>
<line x1="42.75" y1="378.8" x2="137.3" y2="304.1" stroke="#555" stroke-width="1.1"/>
<line x1="42.75" y1="378.3" x2="137.3" y2="301.6" stroke="#3f76ad" stroke-width="1.1"/>
<circle cx="42.75" cy="378.8" r="1.9" fill="url(#gBallG)"/>
<circle cx="71.2" cy="353.6" r="1.9" fill="url(#gBallG)"/>
<circle cx="99.6" cy="332.3" r="1.9" fill="url(#gBallG)"/>
<circle cx="116.3" cy="319.7" r="1.9" fill="url(#gBallG)"/>
<circle cx="137.3" cy="304.1" r="1.9" fill="url(#gBallG)"/>
<circle cx="42.75" cy="378.3" r="1.9" fill="url(#gBallB)"/>
<circle cx="71.2" cy="353.0" r="1.9" fill="url(#gBallB)"/>
<circle cx="99.6" cy="329.9" r="1.9" fill="url(#gBallB)"/>
<circle cx="116.3" cy="317.2" r="1.9" fill="url(#gBallB)"/>
<circle cx="137.3" cy="301.6" r="1.9" fill="url(#gBallB)"/>
<circle cx="44.3" cy="293.6" r="1.9" fill="url(#gBallG)"/>
<circle cx="44.3" cy="300.8" r="1.9" fill="url(#gBallB)"/>
<text x="51.90" y="295.60" font-size="4.9" text-anchor="start" font-weight="bold" fill="#111" font-family="'Liberation Sans', sans-serif" stroke="#111" stroke-width="0.2" >Anode</text>
<text x="71.60" y="295.60" font-size="4.9" text-anchor="start" font-weight="bold" fill="#111" font-family="'Liberation Sans', sans-serif" stroke="#111" stroke-width="0.2" >b = 0.84137</text>
<text x="51.90" y="302.40" font-size="4.9" text-anchor="start" font-weight="bold" fill="#111" font-family="'Liberation Sans', sans-serif" stroke="#111" stroke-width="0.2" >Cathode</text>
<text x="75.60" y="302.40" font-size="4.9" text-anchor="start" font-weight="bold" fill="#111" font-family="'Liberation Sans', sans-serif" stroke="#111" stroke-width="0.2" >b = 0.86168</text>
<rect x="33.50" y="287.50" width="132.00" height="106.00" fill="none" stroke="#222" stroke-width="1.25"/>
<text x="172.50" y="279.10" font-size="12.5" text-anchor="start" font-weight="bold" fill="#111" font-family="'Liberation Sans', sans-serif" stroke="#111" stroke-width="0.2" >(h)</text>
<line x1="201.30" y1="287.90" x2="203.30" y2="287.90" stroke="#222" stroke-width="0.8"/>
<text x="200.50" y="289.70" font-size="5.0" text-anchor="end" font-weight="bold" fill="#222" font-family="'Liberation Sans', sans-serif" stroke="#222" stroke-width="0.2" >0.0060</text>
<line x1="201.30" y1="308.90" x2="203.30" y2="308.90" stroke="#222" stroke-width="0.8"/>
<text x="200.50" y="310.70" font-size="5.0" text-anchor="end" font-weight="bold" fill="#222" font-family="'Liberation Sans', sans-serif" stroke="#222" stroke-width="0.2" >0.0055</text>
<line x1="201.30" y1="329.90" x2="203.30" y2="329.90" stroke="#222" stroke-width="0.8"/>
<text x="200.50" y="331.70" font-size="5.0" text-anchor="end" font-weight="bold" fill="#222" font-family="'Liberation Sans', sans-serif" stroke="#222" stroke-width="0.2" >0.0050</text>
<line x1="201.30" y1="350.90" x2="203.30" y2="350.90" stroke="#222" stroke-width="0.8"/>
<text x="200.50" y="352.70" font-size="5.0" text-anchor="end" font-weight="bold" fill="#222" font-family="'Liberation Sans', sans-serif" stroke="#222" stroke-width="0.2" >0.0045</text>
<line x1="201.30" y1="371.90" x2="203.30" y2="371.90" stroke="#222" stroke-width="0.8"/>
<text x="200.50" y="373.70" font-size="5.0" text-anchor="end" font-weight="bold" fill="#222" font-family="'Liberation Sans', sans-serif" stroke="#222" stroke-width="0.2" >0.0040</text>
<line x1="201.30" y1="392.90" x2="203.30" y2="392.90" stroke="#222" stroke-width="0.8"/>
<text x="200.50" y="394.70" font-size="5.0" text-anchor="end" font-weight="bold" fill="#222" font-family="'Liberation Sans', sans-serif" stroke="#222" stroke-width="0.2" >0.0035</text>
<line x1="202.10" y1="298.40" x2="203.30" y2="298.40" stroke="#222" stroke-width="0.7"/>
<line x1="202.10" y1="319.40" x2="203.30" y2="319.40" stroke="#222" stroke-width="0.7"/>
<line x1="202.10" y1="340.40" x2="203.30" y2="340.40" stroke="#222" stroke-width="0.7"/>
<line x1="202.10" y1="361.40" x2="203.30" y2="361.40" stroke="#222" stroke-width="0.7"/>
<line x1="202.10" y1="382.40" x2="203.30" y2="382.40" stroke="#222" stroke-width="0.7"/>
<line x1="203.30" y1="393.80" x2="203.30" y2="395.80" stroke="#222" stroke-width="0.8"/>
<text x="203.30" y="401.60" font-size="5" text-anchor="middle" font-weight="bold" fill="#111" font-family="'Liberation Sans', sans-serif" stroke="#111" stroke-width="0.2" >1</text>
<line x1="223.50" y1="393.80" x2="223.50" y2="395.80" stroke="#222" stroke-width="0.8"/>
<text x="223.50" y="401.60" font-size="5" text-anchor="middle" font-weight="bold" fill="#111" font-family="'Liberation Sans', sans-serif" stroke="#111" stroke-width="0.2" >2</text>
<line x1="243.70" y1="393.80" x2="243.70" y2="395.80" stroke="#222" stroke-width="0.8"/>
<text x="243.70" y="401.60" font-size="5" text-anchor="middle" font-weight="bold" fill="#111" font-family="'Liberation Sans', sans-serif" stroke="#111" stroke-width="0.2" >3</text>
<line x1="263.90" y1="393.80" x2="263.90" y2="395.80" stroke="#222" stroke-width="0.8"/>
<text x="263.90" y="401.60" font-size="5" text-anchor="middle" font-weight="bold" fill="#111" font-family="'Liberation Sans', sans-serif" stroke="#111" stroke-width="0.2" >4</text>
<line x1="284.10" y1="393.80" x2="284.10" y2="395.80" stroke="#222" stroke-width="0.8"/>
<text x="284.10" y="401.60" font-size="5" text-anchor="middle" font-weight="bold" fill="#111" font-family="'Liberation Sans', sans-serif" stroke="#111" stroke-width="0.2" >5</text>
<line x1="304.30" y1="393.80" x2="304.30" y2="395.80" stroke="#222" stroke-width="0.8"/>
<text x="304.30" y="401.60" font-size="5" text-anchor="middle" font-weight="bold" fill="#111" font-family="'Liberation Sans', sans-serif" stroke="#111" stroke-width="0.2" >6</text>
<line x1="324.50" y1="393.80" x2="324.50" y2="395.80" stroke="#222" stroke-width="0.8"/>
<text x="324.50" y="401.60" font-size="5" text-anchor="middle" font-weight="bold" fill="#111" font-family="'Liberation Sans', sans-serif" stroke="#111" stroke-width="0.2" >7</text>
<line x1="213.40" y1="393.80" x2="213.40" y2="395.00" stroke="#222" stroke-width="0.7"/>
<line x1="233.60" y1="393.80" x2="233.60" y2="395.00" stroke="#222" stroke-width="0.7"/>
<line x1="253.80" y1="393.80" x2="253.80" y2="395.00" stroke="#222" stroke-width="0.7"/>
<line x1="274.00" y1="393.80" x2="274.00" y2="395.00" stroke="#222" stroke-width="0.7"/>
<line x1="294.20" y1="393.80" x2="294.20" y2="395.00" stroke="#222" stroke-width="0.7"/>
<line x1="314.40" y1="393.80" x2="314.40" y2="395.00" stroke="#222" stroke-width="0.7"/>
<line x1="334.60" y1="393.80" x2="334.60" y2="395.00" stroke="#222" stroke-width="0.7"/>
<text x="269.60" y="411.00" font-size="6" text-anchor="middle" font-weight="bold" fill="#111" font-family="'Liberation Sans', sans-serif" stroke="#111" stroke-width="0.2" >Scan rate<tspan dy="-2" font-size="3.6">1/2</tspan><tspan dy="2"> (mV s</tspan><tspan dy="-2" font-size="3.6">-1</tspan><tspan dy="2">)</tspan><tspan dy="-2" font-size="3.6">1/2</tspan></text>
<text x="179.10" y="340.80" font-size="5.6" text-anchor="middle" font-weight="bold" fill="#111" font-family="'Liberation Sans', sans-serif" stroke="#111" stroke-width="0.2" transform="rotate(-90 179.10 340.80)" >1/Q<tspan dy="1.2" font-size="3.6">s</tspan><tspan dy="-1.2"> (g C</tspan><tspan dy="-2" font-size="3.6">-1</tspan><tspan dy="2">)</tspan></text>
<path d="M228,376.8 L273.6,352.6" stroke="#2d5d8f" stroke-width="1.0" stroke-dasharray="3,1.2,0.9,1.2" fill="none"/>
<circle cx="228" cy="376.8" r="2.05" fill="url(#gBall)"/>
<circle cx="247.2" cy="369.3" r="2.05" fill="url(#gBall)"/>
<circle cx="273.6" cy="352.6" r="2.05" fill="url(#gBall)"/>
<circle cx="294.1" cy="335.7" r="2.05" fill="url(#gBall)"/>
<circle cx="310.8" cy="317.7" r="2.05" fill="url(#gBall)"/>
<circle cx="325.8" cy="300.2" r="2.05" fill="url(#gBall)"/>
<text x="211.70" y="354.60" font-size="5.0" text-anchor="start" font-weight="bold" fill="#2d5d8f" font-family="'Liberation Serif', serif" >1/Q<tspan dy="0.8" font-size="3">s</tspan><tspan dy="-0.8"> = 0.00328 + 2.61 v</tspan><tspan dy="-1.6" font-size="3">1/2</tspan></text>
<rect x="203.50" y="287.50" width="131.00" height="106.00" fill="none" stroke="#222" stroke-width="1.25"/>
<text x="342.40" y="278.30" font-size="12.5" text-anchor="start" font-weight="bold" fill="#111" font-family="'Liberation Sans', sans-serif" stroke="#111" stroke-width="0.2" >(i)</text>
<line x1="368.80" y1="287.40" x2="370.80" y2="287.40" stroke="#222" stroke-width="0.8"/>
<text x="368.00" y="289.20" font-size="5.0" text-anchor="end" font-weight="bold" fill="#222" font-family="'Liberation Sans', sans-serif" stroke="#222" stroke-width="0.2" >260</text>
<line x1="368.80" y1="308.40" x2="370.80" y2="308.40" stroke="#222" stroke-width="0.8"/>
<text x="368.00" y="310.20" font-size="5.0" text-anchor="end" font-weight="bold" fill="#222" font-family="'Liberation Sans', sans-serif" stroke="#222" stroke-width="0.2" >240</text>
<line x1="368.80" y1="329.40" x2="370.80" y2="329.40" stroke="#222" stroke-width="0.8"/>
<text x="368.00" y="331.20" font-size="5.0" text-anchor="end" font-weight="bold" fill="#222" font-family="'Liberation Sans', sans-serif" stroke="#222" stroke-width="0.2" >220</text>
<line x1="368.80" y1="350.40" x2="370.80" y2="350.40" stroke="#222" stroke-width="0.8"/>
<text x="368.00" y="352.20" font-size="5.0" text-anchor="end" font-weight="bold" fill="#222" font-family="'Liberation Sans', sans-serif" stroke="#222" stroke-width="0.2" >200</text>
<line x1="368.80" y1="371.40" x2="370.80" y2="371.40" stroke="#222" stroke-width="0.8"/>
<text x="368.00" y="373.20" font-size="5.0" text-anchor="end" font-weight="bold" fill="#222" font-family="'Liberation Sans', sans-serif" stroke="#222" stroke-width="0.2" >180</text>
<line x1="368.80" y1="392.40" x2="370.80" y2="392.40" stroke="#222" stroke-width="0.8"/>
<text x="368.00" y="394.20" font-size="5.0" text-anchor="end" font-weight="bold" fill="#222" font-family="'Liberation Sans', sans-serif" stroke="#222" stroke-width="0.2" >160</text>
<line x1="369.60" y1="297.90" x2="370.80" y2="297.90" stroke="#222" stroke-width="0.7"/>
<line x1="369.60" y1="318.90" x2="370.80" y2="318.90" stroke="#222" stroke-width="0.7"/>
<line x1="369.60" y1="339.90" x2="370.80" y2="339.90" stroke="#222" stroke-width="0.7"/>
<line x1="369.60" y1="360.90" x2="370.80" y2="360.90" stroke="#222" stroke-width="0.7"/>
<line x1="369.60" y1="381.90" x2="370.80" y2="381.90" stroke="#222" stroke-width="0.7"/>
<line x1="370.30" y1="393.20" x2="370.30" y2="395.20" stroke="#222" stroke-width="0.8"/>
<text x="370.30" y="401.00" font-size="5" text-anchor="middle" font-weight="bold" fill="#111" font-family="'Liberation Sans', sans-serif" stroke="#111" stroke-width="0.2" >0.10</text>
<line x1="387.80" y1="393.20" x2="387.80" y2="395.20" stroke="#222" stroke-width="0.8"/>
<text x="387.80" y="401.00" font-size="5" text-anchor="middle" font-weight="bold" fill="#111" font-family="'Liberation Sans', sans-serif" stroke="#111" stroke-width="0.2" >0.15</text>
<line x1="405.30" y1="393.20" x2="405.30" y2="395.20" stroke="#222" stroke-width="0.8"/>
<text x="405.30" y="401.00" font-size="5" text-anchor="middle" font-weight="bold" fill="#111" font-family="'Liberation Sans', sans-serif" stroke="#111" stroke-width="0.2" >0.20</text>
<line x1="422.80" y1="393.20" x2="422.80" y2="395.20" stroke="#222" stroke-width="0.8"/>
<text x="422.80" y="401.00" font-size="5" text-anchor="middle" font-weight="bold" fill="#111" font-family="'Liberation Sans', sans-serif" stroke="#111" stroke-width="0.2" >0.25</text>
<line x1="440.30" y1="393.20" x2="440.30" y2="395.20" stroke="#222" stroke-width="0.8"/>
<text x="440.30" y="401.00" font-size="5" text-anchor="middle" font-weight="bold" fill="#111" font-family="'Liberation Sans', sans-serif" stroke="#111" stroke-width="0.2" >0.30</text>
<line x1="457.80" y1="393.20" x2="457.80" y2="395.20" stroke="#222" stroke-width="0.8"/>
<text x="457.80" y="401.00" font-size="5" text-anchor="middle" font-weight="bold" fill="#111" font-family="'Liberation Sans', sans-serif" stroke="#111" stroke-width="0.2" >0.35</text>
<line x1="475.30" y1="393.20" x2="475.30" y2="395.20" stroke="#222" stroke-width="0.8"/>
<text x="475.30" y="401.00" font-size="5" text-anchor="middle" font-weight="bold" fill="#111" font-family="'Liberation Sans', sans-serif" stroke="#111" stroke-width="0.2" >0.40</text>
<line x1="492.80" y1="393.20" x2="492.80" y2="395.20" stroke="#222" stroke-width="0.8"/>
<text x="492.80" y="401.00" font-size="5" text-anchor="middle" font-weight="bold" fill="#111" font-family="'Liberation Sans', sans-serif" stroke="#111" stroke-width="0.2" >0.45</text>
<line x1="379.05" y1="393.20" x2="379.05" y2="394.40" stroke="#222" stroke-width="0.7"/>
<line x1="396.55" y1="393.20" x2="396.55" y2="394.40" stroke="#222" stroke-width="0.7"/>
<line x1="414.05" y1="393.20" x2="414.05" y2="394.40" stroke="#222" stroke-width="0.7"/>
<line x1="431.55" y1="393.20" x2="431.55" y2="394.40" stroke="#222" stroke-width="0.7"/>
<line x1="449.05" y1="393.20" x2="449.05" y2="394.40" stroke="#222" stroke-width="0.7"/>
<line x1="466.55" y1="393.20" x2="466.55" y2="394.40" stroke="#222" stroke-width="0.7"/>
<line x1="484.05" y1="393.20" x2="484.05" y2="394.40" stroke="#222" stroke-width="0.7"/>
<line x1="501.55" y1="393.20" x2="501.55" y2="394.40" stroke="#222" stroke-width="0.7"/>
<text x="437.10" y="411.00" font-size="6" text-anchor="middle" font-weight="bold" fill="#111" font-family="'Liberation Sans', sans-serif" stroke="#111" stroke-width="0.2" >Scan Rate<tspan dy="-2" font-size="3.6">-1/2</tspan><tspan dy="2"> (mV s</tspan><tspan dy="-2" font-size="3.6">-1</tspan><tspan dy="2">)</tspan><tspan dy="-2" font-size="3.6">-1/2</tspan></text>
<text x="354.90" y="342.80" font-size="5.6" text-anchor="middle" font-weight="bold" fill="#111" font-family="'Liberation Sans', sans-serif" stroke="#111" stroke-width="0.2" transform="rotate(-90 354.90 342.80)" >Q<tspan dy="1.2" font-size="3.6">s</tspan><tspan dy="-1.2"> (C g</tspan><tspan dy="-2" font-size="3.6">-1</tspan><tspan dy="2">)</tspan></text>
<path d="M414,321.7 L492.5,288.3" stroke="#2d5d8f" stroke-width="1.0" stroke-dasharray="3,1.2,0.9,1.2" fill="none"/>
<circle cx="385.1" cy="376.8" r="2.05" fill="url(#gBall)"/>
<circle cx="391.4" cy="362.4" r="2.05" fill="url(#gBall)"/>
<circle cx="399.7" cy="345.3" r="2.05" fill="url(#gBall)"/>
<circle cx="414" cy="325.5" r="2.05" fill="url(#gBall)"/>
<circle cx="446.7" cy="302.1" r="2.05" fill="url(#gBall)"/>
<circle cx="492.5" cy="290.3" r="2.05" fill="url(#gBall)"/>
<text x="431.60" y="325.80" font-size="5.0" text-anchor="start" font-weight="bold" fill="#2d5d8f" font-family="'Liberation Serif', serif" >Q<tspan dy="0.8" font-size="3">s</tspan><tspan dy="-0.8"> = 194.91 + 143.99 v</tspan><tspan dy="-1.6" font-size="3">-1/2</tspan></text>
<rect x="370.50" y="287.50" width="132.00" height="106.00" fill="none" stroke="#222" stroke-width="1.25"/>
<text x="9.00" y="413.90" font-size="12.5" text-anchor="start" font-weight="bold" fill="#111" font-family="'Liberation Sans', sans-serif" stroke="#111" stroke-width="0.2" >(j)</text>
<line x1="64.00" y1="417.90" x2="66.00" y2="417.90" stroke="#222" stroke-width="0.8"/>
<text x="63.20" y="419.70" font-size="4.9" text-anchor="end" font-weight="bold" fill="#222" font-family="'Liberation Sans', sans-serif" stroke="#222" stroke-width="0.2" >100</text>
<line x1="64.00" y1="440.92" x2="66.00" y2="440.92" stroke="#222" stroke-width="0.8"/>
<text x="63.20" y="442.72" font-size="4.9" text-anchor="end" font-weight="bold" fill="#222" font-family="'Liberation Sans', sans-serif" stroke="#222" stroke-width="0.2" >80</text>
<line x1="64.00" y1="463.94" x2="66.00" y2="463.94" stroke="#222" stroke-width="0.8"/>
<text x="63.20" y="465.74" font-size="4.9" text-anchor="end" font-weight="bold" fill="#222" font-family="'Liberation Sans', sans-serif" stroke="#222" stroke-width="0.2" >60</text>
<line x1="64.00" y1="486.96" x2="66.00" y2="486.96" stroke="#222" stroke-width="0.8"/>
<text x="63.20" y="488.76" font-size="4.9" text-anchor="end" font-weight="bold" fill="#222" font-family="'Liberation Sans', sans-serif" stroke="#222" stroke-width="0.2" >40</text>
<line x1="64.00" y1="509.98" x2="66.00" y2="509.98" stroke="#222" stroke-width="0.8"/>
<text x="63.20" y="511.78" font-size="4.9" text-anchor="end" font-weight="bold" fill="#222" font-family="'Liberation Sans', sans-serif" stroke="#222" stroke-width="0.2" >20</text>
<line x1="64.00" y1="533.00" x2="66.00" y2="533.00" stroke="#222" stroke-width="0.8"/>
<text x="63.20" y="534.80" font-size="4.9" text-anchor="end" font-weight="bold" fill="#222" font-family="'Liberation Sans', sans-serif" stroke="#222" stroke-width="0.2" >0</text>
<line x1="64.80" y1="429.40" x2="66.00" y2="429.40" stroke="#222" stroke-width="0.7"/>
<line x1="64.80" y1="452.42" x2="66.00" y2="452.42" stroke="#222" stroke-width="0.7"/>
<line x1="64.80" y1="475.44" x2="66.00" y2="475.44" stroke="#222" stroke-width="0.7"/>
<line x1="64.80" y1="498.46" x2="66.00" y2="498.46" stroke="#222" stroke-width="0.7"/>
<line x1="64.80" y1="521.48" x2="66.00" y2="521.48" stroke="#222" stroke-width="0.7"/>
<rect x="84.1" y="459.5" width="12.4" height="73.50" fill="url(#gBlue)"/>
<rect x="96.5" y="491.4" width="12.1" height="41.60" fill="url(#gDark)"/>
<text x="90.40" y="458.30" font-size="4.5" text-anchor="middle" font-weight="normal" fill="#111" font-family="'Liberation Sans', sans-serif" >63.9%</text>
<text x="102.40" y="490.30" font-size="4.5" text-anchor="middle" font-weight="normal" fill="#111" font-family="'Liberation Sans', sans-serif" >36.1%</text>
<rect x="68.9" y="422.8" width="10.9" height="5.2" fill="url(#gBlue)"/>
<rect x="68.9" y="429.1" width="10.9" height="5.2" fill="url(#gDark)"/>
<text x="81.60" y="427.10" font-size="4.85" text-anchor="start" font-weight="bold" fill="#111" font-family="'Liberation Sans', sans-serif" stroke="#111" stroke-width="0.2" >Surface capacitive</text>
<text x="81.60" y="433.40" font-size="4.85" text-anchor="start" font-weight="bold" fill="#111" font-family="'Liberation Sans', sans-serif" stroke="#111" stroke-width="0.2" >Diffusion</text>
<rect x="66.50" y="417.50" width="60.00" height="116.00" fill="none" stroke="#222" stroke-width="1.25"/>
<text x="96.20" y="545.10" font-size="6" text-anchor="middle" font-weight="bold" fill="#111" font-family="'Liberation Sans', sans-serif" stroke="#111" stroke-width="0.2" >CoVO-HNC</text>
<text x="52.60" y="476.00" font-size="5.75" text-anchor="middle" font-weight="bold" fill="#111" font-family="'Liberation Sans', sans-serif" stroke="#111" stroke-width="0.2" transform="rotate(-90 52.60 476.00)" >Contribution Ratio (%)</text>
<text x="173.30" y="413.50" font-size="12.5" text-anchor="start" font-weight="bold" fill="#111" font-family="'Liberation Sans', sans-serif" stroke="#111" stroke-width="0.2" >(k)</text>
<line x1="201.10" y1="426.00" x2="203.10" y2="426.00" stroke="#222" stroke-width="0.8"/>
<text x="200.30" y="427.80" font-size="4.9" text-anchor="end" font-weight="bold" fill="#222" font-family="'Liberation Sans', sans-serif" stroke="#222" stroke-width="0.2" >0.015</text>
<line x1="201.10" y1="443.56" x2="203.10" y2="443.56" stroke="#222" stroke-width="0.8"/>
<text x="200.30" y="445.36" font-size="4.9" text-anchor="end" font-weight="bold" fill="#222" font-family="'Liberation Sans', sans-serif" stroke="#222" stroke-width="0.2" >0.010</text>
<line x1="201.10" y1="461.12" x2="203.10" y2="461.12" stroke="#222" stroke-width="0.8"/>
<text x="200.30" y="462.92" font-size="4.9" text-anchor="end" font-weight="bold" fill="#222" font-family="'Liberation Sans', sans-serif" stroke="#222" stroke-width="0.2" >0.005</text>
<line x1="201.10" y1="478.68" x2="203.10" y2="478.68" stroke="#222" stroke-width="0.8"/>
<text x="200.30" y="480.48" font-size="4.9" text-anchor="end" font-weight="bold" fill="#222" font-family="'Liberation Sans', sans-serif" stroke="#222" stroke-width="0.2" >0.000</text>
<line x1="201.10" y1="496.24" x2="203.10" y2="496.24" stroke="#222" stroke-width="0.8"/>
<text x="200.30" y="498.04" font-size="4.9" text-anchor="end" font-weight="bold" fill="#222" font-family="'Liberation Sans', sans-serif" stroke="#222" stroke-width="0.2" >-0.005</text>
<line x1="201.10" y1="513.80" x2="203.10" y2="513.80" stroke="#222" stroke-width="0.8"/>
<text x="200.30" y="515.60" font-size="4.9" text-anchor="end" font-weight="bold" fill="#222" font-family="'Liberation Sans', sans-serif" stroke="#222" stroke-width="0.2" >-0.010</text>
<line x1="201.90" y1="434.78" x2="203.10" y2="434.78" stroke="#222" stroke-width="0.7"/>
<line x1="201.90" y1="452.34" x2="203.10" y2="452.34" stroke="#222" stroke-width="0.7"/>
<line x1="201.90" y1="469.90" x2="203.10" y2="469.90" stroke="#222" stroke-width="0.7"/>
<line x1="201.90" y1="487.46" x2="203.10" y2="487.46" stroke="#222" stroke-width="0.7"/>
<line x1="201.90" y1="505.02" x2="203.10" y2="505.02" stroke="#222" stroke-width="0.7"/>
<line x1="201.90" y1="522.58" x2="203.10" y2="522.58" stroke="#222" stroke-width="0.7"/>
<line x1="201.90" y1="417.22" x2="203.10" y2="417.22" stroke="#222" stroke-width="0.7"/>
<line x1="212.50" y1="522.90" x2="212.50" y2="524.90" stroke="#222" stroke-width="0.8"/>
<text x="212.50" y="530.60" font-size="5" text-anchor="middle" font-weight="bold" fill="#111" font-family="'Liberation Sans', sans-serif" stroke="#111" stroke-width="0.2" >0.0</text>
<line x1="231.27" y1="522.90" x2="231.27" y2="524.90" stroke="#222" stroke-width="0.8"/>
<text x="231.27" y="530.60" font-size="5" text-anchor="middle" font-weight="bold" fill="#111" font-family="'Liberation Sans', sans-serif" stroke="#111" stroke-width="0.2" >0.1</text>
<line x1="250.04" y1="522.90" x2="250.04" y2="524.90" stroke="#222" stroke-width="0.8"/>
<text x="250.04" y="530.60" font-size="5" text-anchor="middle" font-weight="bold" fill="#111" font-family="'Liberation Sans', sans-serif" stroke="#111" stroke-width="0.2" >0.2</text>
<line x1="268.81" y1="522.90" x2="268.81" y2="524.90" stroke="#222" stroke-width="0.8"/>
<text x="268.81" y="530.60" font-size="5" text-anchor="middle" font-weight="bold" fill="#111" font-family="'Liberation Sans', sans-serif" stroke="#111" stroke-width="0.2" >0.3</text>
<line x1="287.58" y1="522.90" x2="287.58" y2="524.90" stroke="#222" stroke-width="0.8"/>
<text x="287.58" y="530.60" font-size="5" text-anchor="middle" font-weight="bold" fill="#111" font-family="'Liberation Sans', sans-serif" stroke="#111" stroke-width="0.2" >0.4</text>
<line x1="306.35" y1="522.90" x2="306.35" y2="524.90" stroke="#222" stroke-width="0.8"/>
<text x="306.35" y="530.60" font-size="5" text-anchor="middle" font-weight="bold" fill="#111" font-family="'Liberation Sans', sans-serif" stroke="#111" stroke-width="0.2" >0.5</text>
<line x1="325.12" y1="522.90" x2="325.12" y2="524.90" stroke="#222" stroke-width="0.8"/>
<text x="325.12" y="530.60" font-size="5" text-anchor="middle" font-weight="bold" fill="#111" font-family="'Liberation Sans', sans-serif" stroke="#111" stroke-width="0.2" >0.6</text>
<line x1="221.88" y1="522.90" x2="221.88" y2="524.10" stroke="#222" stroke-width="0.7"/>
<line x1="240.65" y1="522.90" x2="240.65" y2="524.10" stroke="#222" stroke-width="0.7"/>
<line x1="259.42" y1="522.90" x2="259.42" y2="524.10" stroke="#222" stroke-width="0.7"/>
<line x1="278.19" y1="522.90" x2="278.19" y2="524.10" stroke="#222" stroke-width="0.7"/>
<line x1="296.96" y1="522.90" x2="296.96" y2="524.10" stroke="#222" stroke-width="0.7"/>
<line x1="315.73" y1="522.90" x2="315.73" y2="524.10" stroke="#222" stroke-width="0.7"/>
<text x="269.00" y="539.80" font-size="6" text-anchor="middle" font-weight="bold" fill="#111" font-family="'Liberation Sans', sans-serif" stroke="#111" stroke-width="0.2" >Potential (V vs.Hg/HgO)</text>
<text x="182.40" y="471.00" font-size="6" text-anchor="middle" font-weight="bold" fill="#111" font-family="'Liberation Sans', sans-serif" stroke="#111" stroke-width="0.2" transform="rotate(-90 182.40 471.00)" >Current (A)</text>
<path d="M213.10,502.40 C213.52,501.13 214.53,497.77 215.60,494.80 C216.67,491.83 218.00,487.58 219.50,484.60 C221.00,481.62 222.70,479.03 224.60,476.90 C226.50,474.77 228.78,473.28 230.90,471.80 C233.02,470.32 235.17,469.48 237.30,468.00 C239.43,466.52 241.78,464.60 243.70,462.90 C245.62,461.20 246.90,459.07 248.80,457.80 C250.70,456.53 252.98,455.40 255.10,455.30 C257.22,455.20 259.47,456.30 261.50,457.20 C263.53,458.10 265.23,459.45 267.30,460.70 C269.37,461.95 271.48,464.03 273.90,464.70 C276.32,465.37 278.27,465.13 281.80,464.70 C285.33,464.27 290.68,463.20 295.10,462.10 C299.52,461.00 304.55,459.32 308.30,458.10 C312.05,456.88 314.95,455.80 317.60,454.80 C320.25,453.80 323.10,452.55 324.20,452.10 L324.20,452.10 C323.53,453.75 321.58,458.43 320.20,462.00 C318.82,465.57 317.57,470.00 315.90,473.50 C314.23,477.00 312.25,480.00 310.20,483.00 C308.15,486.00 305.95,489.15 303.60,491.50 C301.25,493.85 298.77,495.53 296.10,497.10 C293.43,498.67 290.28,500.25 287.60,500.90 C284.92,501.55 282.27,501.23 280.00,501.00 C277.73,500.77 276.88,500.23 274.00,499.50 C271.12,498.77 265.92,497.45 262.70,496.60 C259.48,495.75 256.82,494.92 254.70,494.40 C252.58,493.88 252.27,493.55 250.00,493.50 C247.73,493.45 243.85,493.57 241.10,494.10 C238.35,494.63 236.25,495.53 233.50,496.70 C230.75,497.87 227.15,499.93 224.60,501.10 C222.05,502.27 220.12,503.48 218.20,503.70 C216.28,503.92 213.95,502.62 213.10,502.40Z" fill="url(#gK)" stroke="none"/>
<path d="M213.10,502.40 C213.52,501.13 214.53,497.77 215.60,494.80 C216.67,491.83 218.00,487.58 219.50,484.60 C221.00,481.62 222.70,479.03 224.60,476.90 C226.50,474.77 228.78,473.28 230.90,471.80 C233.02,470.32 235.17,469.48 237.30,468.00 C239.43,466.52 241.78,464.60 243.70,462.90 C245.62,461.20 246.90,459.07 248.80,457.80 C250.70,456.53 252.98,455.40 255.10,455.30 C257.22,455.20 259.47,456.30 261.50,457.20 C263.53,458.10 265.23,459.45 267.30,460.70 C269.37,461.95 271.48,464.03 273.90,464.70 C276.32,465.37 278.27,465.13 281.80,464.70 C285.33,464.27 290.68,463.20 295.10,462.10 C299.52,461.00 304.55,459.32 308.30,458.10 C312.05,456.88 314.95,455.80 317.60,454.80 C320.25,453.80 323.10,452.55 324.20,452.10 L324.20,452.10 C323.53,453.75 321.58,458.43 320.20,462.00 C318.82,465.57 317.57,470.00 315.90,473.50 C314.23,477.00 312.25,480.00 310.20,483.00 C308.15,486.00 305.95,489.15 303.60,491.50 C301.25,493.85 298.77,495.53 296.10,497.10 C293.43,498.67 290.28,500.25 287.60,500.90 C284.92,501.55 282.27,501.23 280.00,501.00 C277.73,500.77 276.88,500.23 274.00,499.50 C271.12,498.77 265.92,497.45 262.70,496.60 C259.48,495.75 256.82,494.92 254.70,494.40 C252.58,493.88 252.27,493.55 250.00,493.50 C247.73,493.45 243.85,493.57 241.10,494.10 C238.35,494.63 236.25,495.53 233.50,496.70 C230.75,497.87 227.15,499.93 224.60,501.10 C222.05,502.27 220.12,503.48 218.20,503.70 C216.28,503.92 213.95,502.62 213.10,502.40Z" fill="url(#gKv)" stroke="none"/>
<path d="M213.10,488.40 C213.15,487.17 213.30,483.12 213.40,481.00 C213.50,478.88 212.48,477.87 213.70,475.70 C214.92,473.53 218.03,470.55 220.70,468.00 C223.37,465.45 227.15,463.37 229.70,460.40 C232.25,457.43 234.32,452.53 236.00,450.20 C237.68,447.87 238.30,446.62 239.80,446.40 C241.30,446.18 243.30,447.20 245.00,448.90 C246.70,450.60 248.10,454.58 250.00,456.60 C251.90,458.62 254.07,459.97 256.40,461.00 C258.73,462.03 261.08,462.18 264.00,462.80 C266.92,463.42 270.93,465.05 273.90,464.70 C276.87,464.35 279.37,462.35 281.80,460.70 C284.23,459.05 286.07,457.00 288.50,454.80 C290.93,452.60 293.77,449.93 296.40,447.50 C299.03,445.07 301.87,441.97 304.30,440.20 C306.73,438.43 308.78,437.33 311.00,436.90 C313.22,436.47 315.85,437.60 317.60,437.60 C319.35,437.60 320.40,437.68 321.50,436.90 C322.60,436.12 323.57,434.00 324.20,432.90 C324.83,431.80 325.12,430.73 325.30,430.30" fill="none" stroke="#2a2a2a" stroke-width="0.95" stroke-linejoin="round" />
<path d="M213.10,488.40 C213.73,488.83 215.42,489.52 216.90,491.00 C218.38,492.48 220.57,495.22 222.00,497.30 C223.43,499.38 224.33,501.47 225.50,503.50 C226.67,505.53 227.77,508.25 229.00,509.50 C230.23,510.75 231.65,511.17 232.90,511.00 C234.15,510.83 235.23,509.67 236.50,508.50 C237.77,507.33 238.78,505.70 240.50,504.00 C242.22,502.30 244.43,499.90 246.80,498.30 C249.17,496.70 252.05,494.68 254.70,494.40 C257.35,494.12 259.48,495.75 262.70,496.60 C265.92,497.45 270.22,498.70 274.00,499.50 C277.78,500.30 282.52,500.22 285.40,501.40 C288.28,502.58 289.05,504.95 291.30,506.60 C293.55,508.25 296.53,510.43 298.90,511.30 C301.27,512.17 303.30,512.43 305.50,511.80 C307.70,511.17 310.20,510.10 312.10,507.50 C314.00,504.90 315.48,500.45 316.90,496.20 C318.32,491.95 319.58,486.42 320.60,482.00 C321.62,477.58 322.37,474.70 323.00,469.70 C323.63,464.70 324.02,458.57 324.40,452.00 C324.78,445.43 325.15,433.92 325.30,430.30" fill="none" stroke="#2a2a2a" stroke-width="0.95" stroke-linejoin="round" />
<text x="228.70" y="443.00" font-size="4.9" text-anchor="start" font-weight="bold" fill="#2f5d8e" font-family="'Liberation Sans', sans-serif" stroke="#2f5d8e" stroke-width="0.2" >Surface controlled process</text>
<text x="265.50" y="425.50" font-size="4.86" text-anchor="start" font-weight="bold" fill="#333" font-family="'Liberation Sans', sans-serif" stroke="#333" stroke-width="0.2" >Diffusion controlled process</text>
<line x1="256.6" y1="449.5" x2="256.6" y2="455" stroke="#1f3f6a" stroke-width="0.6" stroke-dasharray="0.8,0.7"/>
<path d="M256.6,445.8 L258.2,449.5 L255,449.5Z" fill="#1f3f6a"/>
<line x1="312.7" y1="431" x2="312.7" y2="439.8" stroke="#333" stroke-width="0.6" stroke-dasharray="0.8,0.7"/>
<path d="M312.7,428.2 L314.3,431.5 L311.1,431.5Z" fill="#333"/>
<rect x="203.50" y="416.50" width="132.00" height="106.00" fill="none" stroke="#222" stroke-width="1.25"/>
<text x="343.20" y="413.20" font-size="12.5" text-anchor="start" font-weight="bold" fill="#111" font-family="'Liberation Sans', sans-serif" stroke="#111" stroke-width="0.2" >(l)</text>
<line x1="368.00" y1="417.50" x2="370.00" y2="417.50" stroke="#222" stroke-width="0.8"/>
<text x="367.20" y="419.30" font-size="4.9" text-anchor="end" font-weight="bold" fill="#222" font-family="'Liberation Sans', sans-serif" stroke="#222" stroke-width="0.2" >100</text>
<line x1="368.00" y1="438.68" x2="370.00" y2="438.68" stroke="#222" stroke-width="0.8"/>
<text x="367.20" y="440.48" font-size="4.9" text-anchor="end" font-weight="bold" fill="#222" font-family="'Liberation Sans', sans-serif" stroke="#222" stroke-width="0.2" >80</text>
<line x1="368.00" y1="459.86" x2="370.00" y2="459.86" stroke="#222" stroke-width="0.8"/>
<text x="367.20" y="461.66" font-size="4.9" text-anchor="end" font-weight="bold" fill="#222" font-family="'Liberation Sans', sans-serif" stroke="#222" stroke-width="0.2" >60</text>
<line x1="368.00" y1="481.04" x2="370.00" y2="481.04" stroke="#222" stroke-width="0.8"/>
<text x="367.20" y="482.84" font-size="4.9" text-anchor="end" font-weight="bold" fill="#222" font-family="'Liberation Sans', sans-serif" stroke="#222" stroke-width="0.2" >40</text>
<line x1="368.00" y1="502.22" x2="370.00" y2="502.22" stroke="#222" stroke-width="0.8"/>
<text x="367.20" y="504.02" font-size="4.9" text-anchor="end" font-weight="bold" fill="#222" font-family="'Liberation Sans', sans-serif" stroke="#222" stroke-width="0.2" >20</text>
<line x1="368.00" y1="523.40" x2="370.00" y2="523.40" stroke="#222" stroke-width="0.8"/>
<text x="367.20" y="525.20" font-size="4.9" text-anchor="end" font-weight="bold" fill="#222" font-family="'Liberation Sans', sans-serif" stroke="#222" stroke-width="0.2" >0</text>
<line x1="368.80" y1="428.09" x2="370.00" y2="428.09" stroke="#222" stroke-width="0.7"/>
<line x1="368.80" y1="449.27" x2="370.00" y2="449.27" stroke="#222" stroke-width="0.7"/>
<line x1="368.80" y1="470.45" x2="370.00" y2="470.45" stroke="#222" stroke-width="0.7"/>
<line x1="368.80" y1="491.63" x2="370.00" y2="491.63" stroke="#222" stroke-width="0.7"/>
<line x1="368.80" y1="512.81" x2="370.00" y2="512.81" stroke="#222" stroke-width="0.7"/>
<line x1="383.60" y1="523.40" x2="383.60" y2="525.40" stroke="#222" stroke-width="0.8"/>
<text x="383.60" y="530.60" font-size="5" text-anchor="middle" font-weight="bold" fill="#111" font-family="'Liberation Sans', sans-serif" stroke="#111" stroke-width="0.2" >5</text>
<line x1="409.75" y1="523.40" x2="409.75" y2="525.40" stroke="#222" stroke-width="0.8"/>
<text x="409.75" y="530.60" font-size="5" text-anchor="middle" font-weight="bold" fill="#111" font-family="'Liberation Sans', sans-serif" stroke="#111" stroke-width="0.2" >10</text>
<line x1="435.90" y1="523.40" x2="435.90" y2="525.40" stroke="#222" stroke-width="0.8"/>
<text x="435.90" y="530.60" font-size="5" text-anchor="middle" font-weight="bold" fill="#111" font-family="'Liberation Sans', sans-serif" stroke="#111" stroke-width="0.2" >20</text>
<line x1="462.05" y1="523.40" x2="462.05" y2="525.40" stroke="#222" stroke-width="0.8"/>
<text x="462.05" y="530.60" font-size="5" text-anchor="middle" font-weight="bold" fill="#111" font-family="'Liberation Sans', sans-serif" stroke="#111" stroke-width="0.2" >30</text>
<line x1="488.20" y1="523.40" x2="488.20" y2="525.40" stroke="#222" stroke-width="0.8"/>
<text x="488.20" y="530.60" font-size="5" text-anchor="middle" font-weight="bold" fill="#111" font-family="'Liberation Sans', sans-serif" stroke="#111" stroke-width="0.2" >50</text>
<line x1="396.68" y1="523.40" x2="396.68" y2="524.60" stroke="#222" stroke-width="0.7"/>
<line x1="422.82" y1="523.40" x2="422.82" y2="524.60" stroke="#222" stroke-width="0.7"/>
<line x1="448.98" y1="523.40" x2="448.98" y2="524.60" stroke="#222" stroke-width="0.7"/>
<line x1="475.12" y1="523.40" x2="475.12" y2="524.60" stroke="#222" stroke-width="0.7"/>
<rect x="373.30" y="455.20" width="10.3" height="68.20" fill="url(#gBlue)"/>
<rect x="383.60" y="485.70" width="10.4" height="37.70" fill="url(#gDark)"/>
<text x="378.45" y="454.10" font-size="4.5" text-anchor="middle" font-weight="normal" fill="#111" font-family="'Liberation Sans', sans-serif" >64.4%</text>
<text x="388.80" y="484.60" font-size="4.5" text-anchor="middle" font-weight="normal" fill="#111" font-family="'Liberation Sans', sans-serif" >35.6%</text>
<rect x="399.45" y="451.71" width="10.3" height="71.69" fill="url(#gBlue)"/>
<rect x="409.75" y="489.19" width="10.4" height="34.21" fill="url(#gDark)"/>
<text x="404.60" y="450.61" font-size="4.5" text-anchor="middle" font-weight="normal" fill="#111" font-family="'Liberation Sans', sans-serif" >67.7%</text>
<text x="414.95" y="488.09" font-size="4.5" text-anchor="middle" font-weight="normal" fill="#111" font-family="'Liberation Sans', sans-serif" >32.3%</text>
<rect x="425.60" y="444.93" width="10.3" height="78.47" fill="url(#gBlue)"/>
<rect x="435.90" y="495.97" width="10.4" height="27.43" fill="url(#gDark)"/>
<text x="430.75" y="443.83" font-size="4.5" text-anchor="middle" font-weight="normal" fill="#111" font-family="'Liberation Sans', sans-serif" >74.1%</text>
<text x="441.10" y="494.87" font-size="4.5" text-anchor="middle" font-weight="normal" fill="#111" font-family="'Liberation Sans', sans-serif" >25.9%</text>
<rect x="451.75" y="437.94" width="10.3" height="85.46" fill="url(#gBlue)"/>
<rect x="462.05" y="502.96" width="10.4" height="20.44" fill="url(#gDark)"/>
<text x="456.90" y="436.84" font-size="4.5" text-anchor="middle" font-weight="normal" fill="#111" font-family="'Liberation Sans', sans-serif" >80.7%</text>
<text x="467.25" y="501.86" font-size="4.5" text-anchor="middle" font-weight="normal" fill="#111" font-family="'Liberation Sans', sans-serif" >19.3%</text>
<rect x="477.90" y="423.54" width="10.3" height="99.86" fill="url(#gBlue)"/>
<rect x="488.20" y="517.36" width="10.4" height="6.04" fill="url(#gDark)"/>
<text x="483.05" y="422.44" font-size="4.5" text-anchor="middle" font-weight="normal" fill="#111" font-family="'Liberation Sans', sans-serif" >94.3%</text>
<text x="493.40" y="516.26" font-size="4.5" text-anchor="middle" font-weight="normal" fill="#111" font-family="'Liberation Sans', sans-serif" >5.7%</text>
<rect x="373.7" y="421.9" width="11.5" height="4.9" fill="url(#gBlue)"/>
<rect x="373.7" y="427.8" width="11.5" height="4.9" fill="url(#gDark)"/>
<text x="389.20" y="426.50" font-size="4.87" text-anchor="start" font-weight="bold" fill="#111" font-family="'Liberation Sans', sans-serif" stroke="#111" stroke-width="0.2" >Contribution from surface capacitive</text>
<text x="389.20" y="432.00" font-size="4.87" text-anchor="start" font-weight="bold" fill="#111" font-family="'Liberation Sans', sans-serif" stroke="#111" stroke-width="0.2" >Contribution from diffusion</text>
<rect x="370.50" y="417.50" width="131.00" height="106.00" fill="none" stroke="#222" stroke-width="1.25"/>
<text x="436.20" y="541.10" font-size="6" text-anchor="middle" font-weight="bold" fill="#111" font-family="'Liberation Sans', sans-serif" stroke="#111" stroke-width="0.2" >Scan Rate (mV s<tspan dy="-2" font-size="4">-1</tspan><tspan dy="2">)</tspan></text>
<text x="353.70" y="476.00" font-size="6.0" text-anchor="middle" font-weight="bold" fill="#111" font-family="'Liberation Sans', sans-serif" stroke="#111" stroke-width="0.2" transform="rotate(-90 353.70 476.00)" >Contribution Ratio (%)</text>
</svg></body></html>
